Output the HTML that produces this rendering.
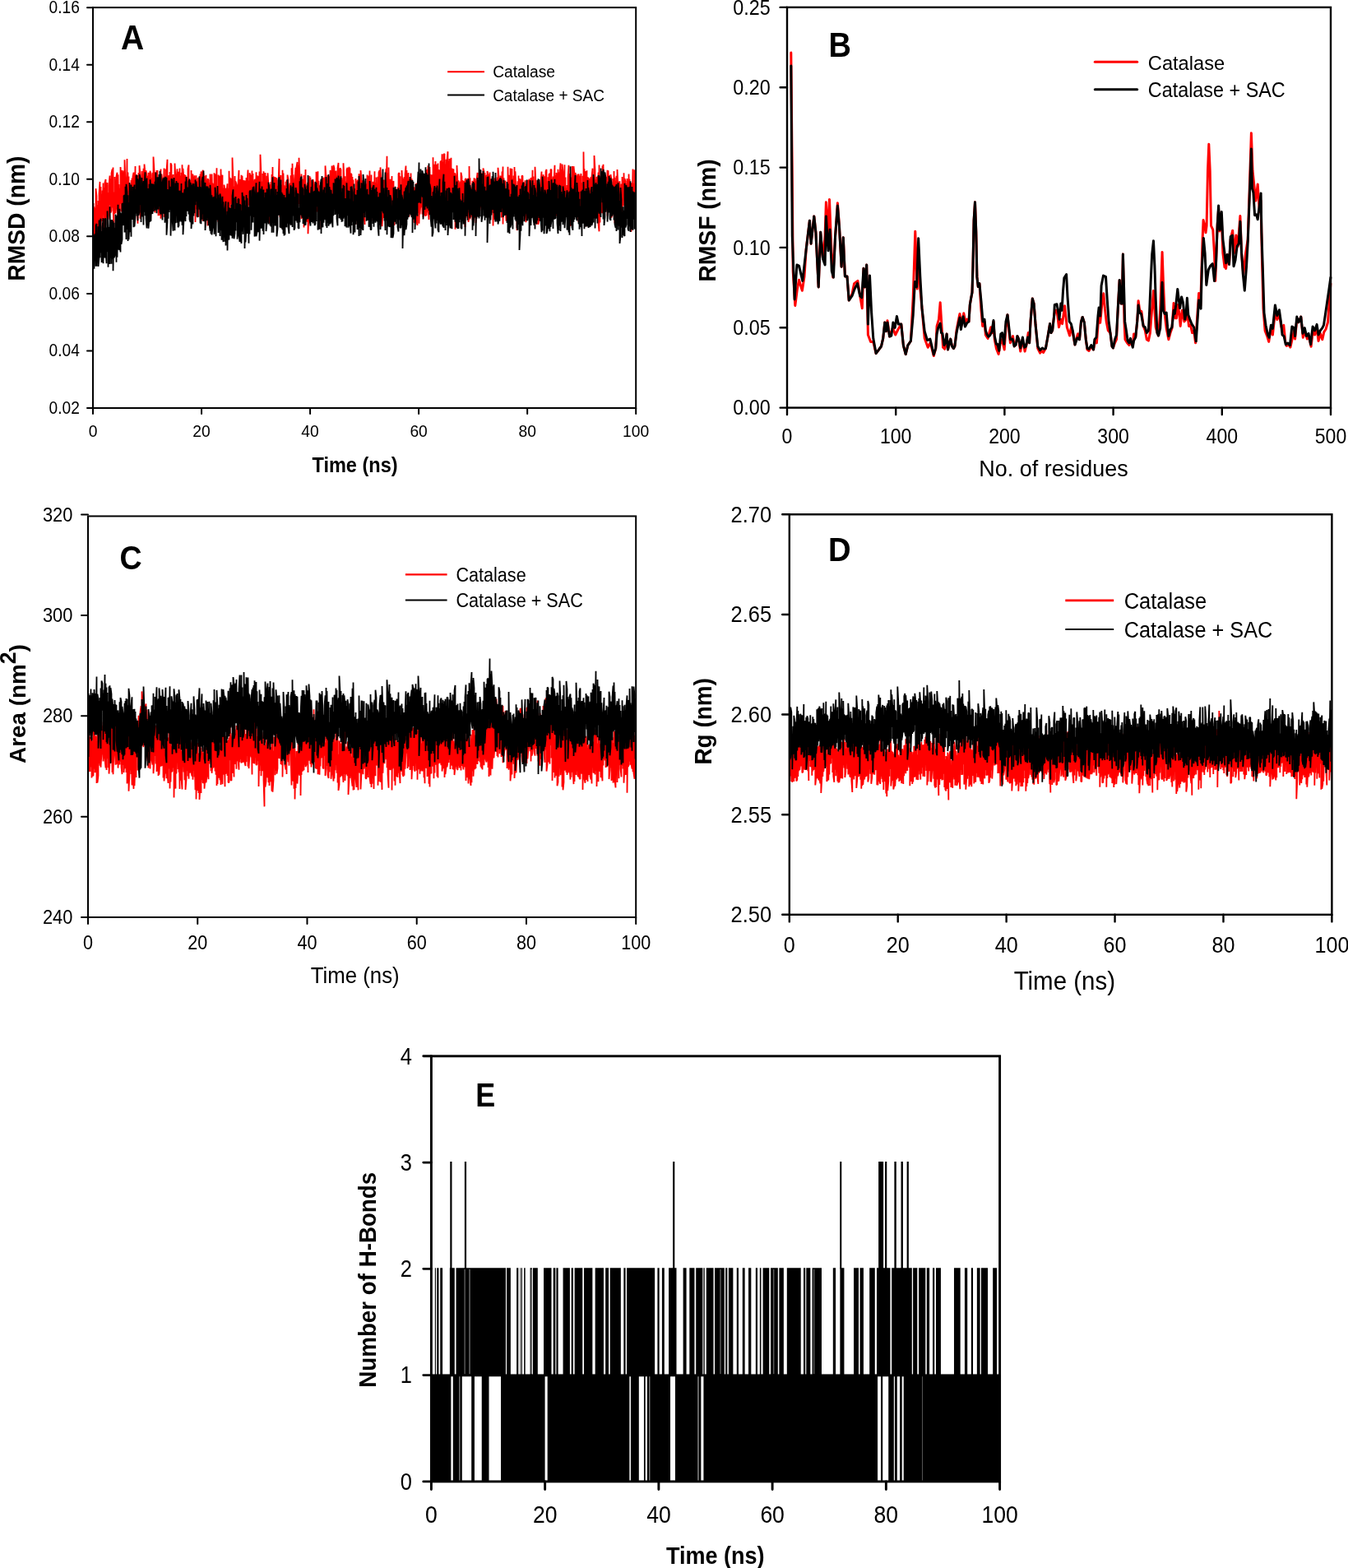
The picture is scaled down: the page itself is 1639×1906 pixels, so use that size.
<!DOCTYPE html>
<html lang="en">
<head>
<meta charset="utf-8">
<title>Catalase MD simulation: RMSD, RMSF, Area, Rg, H-Bonds</title>
<style>
html,body{margin:0;padding:0;background:#fff;}
body{width:1639px;height:1906px;overflow:hidden;font-family:"Liberation Sans",sans-serif;}
svg{display:block;}
</style>
</head>
<body>
<svg width="1639" height="1906" viewBox="0 0 1639 1906" role="img" aria-label="Molecular dynamics simulation plots" font-family="'Liberation Sans', sans-serif" fill="#000">
<rect width="1639" height="1906" fill="#fff"/>
<g id="panelA">
<path d="M113.6,246.9 113.6,301.1 114.5,251.2 114.5,275.4 115.5,252.9 115.5,287 116.5,277 116.5,229.2 117.5,238.6 117.5,276 118.5,304.2 118.5,249.1 119.5,285.7 119.5,244.1 120.5,267.4 120.5,235 121.5,220.9 121.5,278.3 122.5,227 122.5,283.4 123.5,236.3 123.5,264.3 124.5,231.5 124.5,269.1 125.5,222.6 125.5,255.6 126.5,228 126.5,280.9 127.5,267.5 127.5,222 128.5,218 128.5,265.8 129.5,254.1 129.5,225.6 130.5,222 130.5,273.5 131.5,234.1 131.5,266.6 132.5,256.8 132.5,225.2 133.5,213.6 133.5,249.3 134.5,217.2 134.5,258.6 135.5,256.1 135.5,210.4 136.5,205.8 136.5,252.4 137.5,203.6 137.5,251.1 138.5,279.5 138.5,233.6 139.5,259.9 139.5,215 140.5,240.7 140.5,259.1 141.5,249.8 141.5,214.3 142.5,209.7 142.5,245.3 143.5,268.8 143.5,212.3 144.5,270.8 144.5,224.1 145.5,263.3 145.5,229.1 146.5,247.8 146.5,203.1 147.5,215.6 147.5,256.4 148.5,256.8 148.5,206.9 149.5,257 149.5,209.2 150.5,239.6 150.5,207.6 151.5,246.6 151.5,194.2 152.5,219.3 152.5,263.9 153.5,217.1 153.5,263.2 154.5,193 154.5,263.1 155.5,209.6 155.5,244.8 156.5,214.4 156.5,250.9 157.5,229.3 157.5,257.5 158.5,223.8 158.5,258 159.5,252.4 159.5,219 160.5,258.8 160.5,216.5 161.5,259.9 161.5,214.4 162.5,209.6 162.5,245.8 163.5,220.4 163.5,249.7 164.5,202.1 164.5,241.2 165.5,212 165.5,239.8 166.5,212.9 166.5,252.4 167.5,271.8 167.5,232.3 168.5,210 168.5,254.1 169.5,250.5 169.5,201.2 170.5,212.4 170.5,265.7 171.5,246.9 171.5,216.4 172.5,241.7 172.5,207.9 173.5,241 173.5,211.3 174.5,248.8 174.5,204.8 175.5,255.3 175.5,199.5 176.5,210.8 176.5,245.7 177.5,254.2 177.5,207.2 178.5,214.2 178.5,256.7 179.5,257.4 179.5,213.9 180.5,255 180.5,209.8 181.5,244.4 181.5,209.8 182.5,242.5 182.5,207.7 183.5,212.4 183.5,246.8 184.5,247.3 184.5,216.2 185.5,252.2 185.5,209.8 186.5,251.8 186.5,190.6 187.5,207.3 187.5,251.4 188.5,258.4 188.5,209.4 189.5,223.4 189.5,250.3 190.5,207 190.5,242.6 191.5,207 191.5,253 192.5,215.7 192.5,262.3 193.5,215.7 193.5,256.3 194.5,227.1 194.5,261.9 195.5,205.4 195.5,265.7 196.5,257.2 196.5,211.7 197.5,220.1 197.5,249.4 198.5,222.1 198.5,248.5 199.5,204.6 199.5,263.9 200.5,214.3 200.5,256 201.5,243.6 201.5,205.5 202.5,239.2 202.5,207.8 203.5,193.8 203.5,239.5 204.5,242.7 204.5,217.6 205.5,213.2 205.5,244.7 206.5,251.3 206.5,209 207.5,248.8 207.5,198.3 208.5,200.6 208.5,242.6 209.5,213.7 209.5,254.7 210.5,212 210.5,246.4 211.5,240.5 211.5,220.4 212.5,246.1 212.5,198.6 213.5,217.2 213.5,257.8 214.5,263 214.5,218.4 215.5,205.3 215.5,247.2 216.5,250.8 216.5,210.4 217.5,209.1 217.5,242.6 218.5,204.4 218.5,249.5 219.5,213.5 219.5,246.5 220.5,265.1 220.5,209.7 221.5,257.7 221.5,200.2 222.5,255.5 222.5,204.7 223.5,218.3 223.5,248.5 224.5,211.9 224.5,250.8 225.5,248.4 225.5,213 226.5,254 226.5,214.7 227.5,250.5 227.5,218.1 228.5,254.1 228.5,205.1 229.5,200.5 229.5,252.9 230.5,254.2 230.5,219.4 231.5,222.3 231.5,262.1 232.5,261.8 232.5,206.9 233.5,245.8 233.5,213.5 234.5,211.7 234.5,260.4 235.5,214.7 235.5,246.3 236.5,213.3 236.5,245.8 237.5,225 237.5,270 238.5,213.3 238.5,248.9 239.5,254.4 239.5,219.9 240.5,257.3 240.5,217.2 241.5,216 241.5,263.8 242.5,215.6 242.5,251.3 243.5,211.5 243.5,249.4 244.5,252.7 244.5,208.5 245.5,211 245.5,256.3 246.5,268.6 246.5,206.7 247.5,212 247.5,266 248.5,213.8 248.5,264.4 249.5,217.9 249.5,269.8 250.5,212.7 250.5,261.9 251.5,257.4 251.5,219.1 252.5,274.4 252.5,217.1 253.5,218.9 253.5,263.5 254.5,269.7 254.5,222.1 255.5,262.8 255.5,211.4 256.5,258.6 256.5,218 257.5,257.6 257.5,211.5 258.5,245 258.5,222.6 259.5,267.9 259.5,223.4 260.5,261.6 260.5,210.3 261.5,216.5 261.5,273.9 262.5,211.6 262.5,263.1 263.5,204.2 263.5,252.4 264.5,228.2 264.5,262.1 265.5,270 265.5,212.4 266.5,252.9 266.5,216.4 267.5,213.9 267.5,252 268.5,250.1 268.5,205.5 269.5,246.3 269.5,214.7 270.5,212.8 270.5,251.5 271.5,228.5 271.5,266.4 272.5,273.5 272.5,224.6 273.5,231.2 273.5,260.7 274.5,228.7 274.5,266.4 275.5,264.8 275.5,232.7 276.5,223.3 276.5,257.9 277.5,228.8 277.5,257.6 278.5,245.5 278.5,207.7 279.5,266.1 279.5,215.7 280.5,248.2 280.5,217.3 281.5,218.1 281.5,252.3 282.5,252.4 282.5,191.6 283.5,220.2 283.5,249.9 284.5,263.2 284.5,226.5 285.5,266.1 285.5,214 286.5,247.5 286.5,220.4 287.5,224.3 287.5,262.7 288.5,250.6 288.5,224.6 289.5,251.2 289.5,222.8 290.5,206.9 290.5,245.3 291.5,261.1 291.5,218.6 292.5,219.2 292.5,261 293.5,212.8 293.5,256.1 294.5,256.5 294.5,213.7 295.5,246.7 295.5,220.3 296.5,219.6 296.5,266.6 297.5,267.6 297.5,219.3 298.5,225.5 298.5,263.7 299.5,261.1 299.5,216 300.5,257.9 300.5,222.2 301.5,206.5 301.5,254.8 302.5,219.4 302.5,249.4 303.5,247.1 303.5,210.3 304.5,214.3 304.5,247.8 305.5,212.4 305.5,255.3 306.5,207.6 306.5,241 307.5,211.1 307.5,257.5 308.5,263.4 308.5,219.5 309.5,238 309.5,217.9 310.5,220 310.5,257.8 311.5,209.3 311.5,247.1 312.5,255.8 312.5,213.2 313.5,226.6 313.5,256.3 314.5,213.8 314.5,269 315.5,208.5 315.5,252.7 316.5,252.8 316.5,187.7 317.5,211.7 317.5,252.6 318.5,220.6 318.5,248.3 319.5,256 319.5,210.9 320.5,254.2 320.5,208.2 321.5,223.1 321.5,259 322.5,260.8 322.5,209.9 323.5,262.1 323.5,223.6 324.5,260.1 324.5,213.8 325.5,260.7 325.5,210.2 326.5,225.9 326.5,263 327.5,271.6 327.5,224.3 328.5,258.4 328.5,231.7 329.5,221.2 329.5,267.5 330.5,212.1 330.5,254.8 331.5,203.1 331.5,263.3 332.5,247.5 332.5,214.4 333.5,222 333.5,244.5 334.5,249.4 334.5,214.9 335.5,255.8 335.5,217 336.5,216.6 336.5,253.6 337.5,225.8 337.5,252.4 338.5,252.2 338.5,224.2 339.5,192.9 339.5,238.7 340.5,264 340.5,216.6 341.5,213.1 341.5,257.9 342.5,272 342.5,224.4 343.5,278.1 343.5,206.7 344.5,263.5 344.5,210.6 345.5,255.3 345.5,225.4 346.5,235.6 346.5,262.9 347.5,252.8 347.5,220.8 348.5,264.3 348.5,219 349.5,252.6 349.5,212.6 350.5,218.3 350.5,258.1 351.5,224.6 351.5,251.7 352.5,222.6 352.5,270.6 353.5,250.6 353.5,213.3 354.5,257.2 354.5,204.3 355.5,252.9 355.5,198.8 356.5,256 356.5,212.2 357.5,260.1 357.5,223.3 358.5,251.8 358.5,217.9 359.5,203.7 359.5,238.3 360.5,241.9 360.5,203 361.5,196.9 361.5,241.7 362.5,251.2 362.5,200.7 363.5,248.1 363.5,191.7 364.5,216.9 364.5,243.8 365.5,215.9 365.5,249.9 366.5,266.1 366.5,211.4 367.5,254.6 367.5,217.5 368.5,229 368.5,265.6 369.5,212.9 369.5,276.4 370.5,218.7 370.5,251.2 371.5,205.9 371.5,267.3 372.5,226.7 372.5,267.2 373.5,269.6 373.5,224.7 374.5,221.7 374.5,284.2 375.5,260 375.5,221.1 376.5,214 376.5,265.4 377.5,215.8 377.5,259.7 378.5,228.4 378.5,265.8 379.5,219.2 379.5,251.7 380.5,255.6 380.5,218 381.5,223.5 381.5,258.3 382.5,255.7 382.5,223.9 383.5,250 383.5,221.6 384.5,256.8 384.5,208.7 385.5,225.2 385.5,257.5 386.5,208.2 386.5,257.3 387.5,219.7 387.5,266.8 388.5,225.7 388.5,278.3 389.5,225.1 389.5,263.6 390.5,253.1 390.5,221.1 391.5,232.8 391.5,258.4 392.5,268.3 392.5,216.3 393.5,216.9 393.5,259 394.5,250 394.5,215.4 395.5,247.5 395.5,201.4 396.5,216.4 396.5,260.9 397.5,217.2 397.5,256 398.5,212.8 398.5,267.1 399.5,262.5 399.5,217.3 400.5,214.4 400.5,248.6 401.5,245.8 401.5,207 402.5,210.5 402.5,267.5 403.5,237.9 403.5,201.6 404.5,217.5 404.5,252.8 405.5,241 405.5,200.8 406.5,204.6 406.5,247.4 407.5,241.7 407.5,208 408.5,244.5 408.5,207.5 409.5,250.3 409.5,213.8 410.5,247.7 410.5,204.2 411.5,198 411.5,247.9 412.5,235.3 412.5,205.1 413.5,252.6 413.5,204.2 414.5,206.4 414.5,242.1 415.5,216.2 415.5,257.4 416.5,250.3 416.5,218.3 417.5,257 417.5,198.2 418.5,221.1 418.5,261.3 419.5,214.2 419.5,262.9 420.5,220.4 420.5,264.2 421.5,255.5 421.5,206 422.5,203.8 422.5,245.6 423.5,255.4 423.5,212.9 424.5,202.8 424.5,250.4 425.5,204.3 425.5,251.9 426.5,264.3 426.5,210.8 427.5,212 427.5,269.7 428.5,214.9 428.5,256.1 429.5,260.5 429.5,218.4 430.5,254.9 430.5,229.2 431.5,232.1 431.5,259.9 432.5,272.8 432.5,217 433.5,258.1 433.5,226.4 434.5,253.3 434.5,219.8 435.5,219 435.5,262.3 436.5,256 436.5,211.2 437.5,223.2 437.5,272.5 438.5,256.5 438.5,207.1 439.5,218.2 439.5,241.7 440.5,266.7 440.5,219.3 441.5,228.6 441.5,268.5 442.5,226.9 442.5,261.4 443.5,272.9 443.5,229.1 444.5,223.3 444.5,254.5 445.5,223.3 445.5,253.1 446.5,212.4 446.5,263.2 447.5,261.8 447.5,221.9 448.5,213.6 448.5,262.5 449.5,207.4 449.5,251.1 450.5,220.4 450.5,267.3 451.5,212.6 451.5,269.1 452.5,225.2 452.5,256.4 453.5,220.7 453.5,263.9 454.5,221.1 454.5,259.7 455.5,208.3 455.5,248.1 456.5,250.4 456.5,221.7 457.5,260.6 457.5,215.4 458.5,260.8 458.5,226.9 459.5,245.6 459.5,214.8 460.5,258.5 460.5,209.5 461.5,207.1 461.5,263.7 462.5,258.4 462.5,203.4 463.5,222.4 463.5,249.4 464.5,230.9 464.5,275.3 465.5,258.7 465.5,219.5 466.5,265 466.5,218.6 467.5,263.5 467.5,218.4 468.5,255.6 468.5,214.3 469.5,205.1 469.5,235.7 470.5,189.7 470.5,241.6 471.5,248 471.5,210.3 472.5,248.5 472.5,203.4 473.5,249.5 473.5,222.5 474.5,250.5 474.5,217.8 475.5,230.1 475.5,260 476.5,213.9 476.5,278.7 477.5,262.6 477.5,223.2 478.5,219.9 478.5,253.1 479.5,273.9 479.5,237.7 480.5,229.2 480.5,267.6 481.5,259.3 481.5,233.4 482.5,233.5 482.5,256 483.5,227.5 483.5,253.8 484.5,257.1 484.5,211.2 485.5,210 485.5,244.8 486.5,214.3 486.5,256.8 487.5,256.9 487.5,227.4 488.5,263.9 488.5,207 489.5,224.3 489.5,256.3 490.5,255.5 490.5,216.8 491.5,254.3 491.5,215 492.5,258.5 492.5,211.8 493.5,201.6 493.5,258.1 494.5,207.1 494.5,252.1 495.5,252.2 495.5,211.5 496.5,255.9 496.5,210.1 497.5,263.5 497.5,217.6 498.5,222.3 498.5,254.8 499.5,247.9 499.5,210.4 500.5,253.9 500.5,217.4 501.5,225.4 501.5,264.4 502.5,264.1 502.5,229.6 503.5,227.5 503.5,270.6 504.5,269.9 504.5,229.4 505.5,257.1 505.5,223.6 506.5,225 506.5,270 507.5,273.9 507.5,222 508.5,222.8 508.5,258.9 509.5,218.5 509.5,271.7 510.5,215.8 510.5,260.5 511.5,246.8 511.5,220.6 512.5,252.2 512.5,224.6 513.5,260.4 513.5,224.7 514.5,227.4 514.5,264 515.5,215.6 515.5,259.5 516.5,261.8 516.5,225.4 517.5,223 517.5,263.1 518.5,206.1 518.5,261.8 519.5,252 519.5,221 520.5,201.2 520.5,252.9 521.5,267.1 521.5,211.3 522.5,253.5 522.5,203.1 523.5,251.7 523.5,212.2 524.5,220.5 524.5,249.6 525.5,212.2 525.5,259.3 526.5,240.7 526.5,191.3 527.5,257.6 527.5,199.8 528.5,254 528.5,218.8 529.5,196.1 529.5,254.2 530.5,199.8 530.5,242 531.5,200.4 531.5,248.5 532.5,198.4 532.5,236.7 533.5,246.9 533.5,206.1 534.5,230.6 534.5,206.9 535.5,244.6 535.5,196.7 536.5,195.6 536.5,245.5 537.5,187.3 537.5,237.9 538.5,196.4 538.5,229.6 539.5,233.4 539.5,187.6 540.5,187.1 540.5,258.1 541.5,199.6 541.5,239.5 542.5,193.8 542.5,237.1 543.5,229.4 543.5,195 544.5,184.2 544.5,248.4 545.5,230.2 545.5,195.6 546.5,236 546.5,192.9 547.5,202.2 547.5,246.5 548.5,191.8 548.5,261.2 549.5,235.2 549.5,204.5 550.5,242 550.5,207.3 551.5,205.5 551.5,248.4 552.5,265.5 552.5,211 553.5,211.2 553.5,278.7 554.5,213 554.5,250.5 555.5,248.1 555.5,201 556.5,221.4 556.5,266.3 557.5,219.3 557.5,258.8 558.5,222.5 558.5,257.2 559.5,220.6 559.5,253.1 560.5,250.5 560.5,209.6 561.5,214.6 561.5,257.5 562.5,260.2 562.5,219 563.5,264 563.5,221 564.5,221.1 564.5,265.4 565.5,276 565.5,218.2 566.5,216.9 566.5,264.9 567.5,225.5 567.5,257.4 568.5,244.4 568.5,217.1 569.5,218.3 569.5,269.9 570.5,263.7 570.5,202 571.5,266.5 571.5,216.3 572.5,264.1 572.5,234.1 573.5,227.9 573.5,252.5 574.5,219.7 574.5,267.6 575.5,224 575.5,263.1 576.5,216.2 576.5,258.1 577.5,217.1 577.5,265.1 578.5,219.6 578.5,271 579.5,250.6 579.5,219.5 580.5,209.9 580.5,260.9 581.5,235.4 581.5,257.2 582.5,250.6 582.5,209.8 583.5,250.6 583.5,205.8 584.5,252.5 584.5,213.9 585.5,255.6 585.5,210.4 586.5,214.3 586.5,239.4 587.5,234 587.5,204.4 588.5,208.5 588.5,248.3 589.5,210.1 589.5,257.1 590.5,253.2 590.5,224.5 591.5,212.5 591.5,251.6 592.5,256.1 592.5,208 593.5,212.5 593.5,259.4 594.5,212 594.5,261.8 595.5,253.8 595.5,209.6 596.5,257.1 596.5,235.9 597.5,247.6 597.5,217.6 598.5,229 598.5,258.8 599.5,224.7 599.5,274.4 600.5,232.2 600.5,265.4 601.5,266 601.5,216.6 602.5,218.4 602.5,257.6 603.5,223.5 603.5,265.9 604.5,265.6 604.5,215.4 605.5,249.5 605.5,203.8 606.5,215.3 606.5,251.2 607.5,218.6 607.5,252.8 608.5,256.2 608.5,213.6 609.5,223.6 609.5,264.5 610.5,208.6 610.5,251.8 611.5,202.6 611.5,272.5 612.5,216.3 612.5,246 613.5,224.7 613.5,261.9 614.5,219.4 614.5,252.9 615.5,268.8 615.5,235.8 616.5,261.2 616.5,229.6 617.5,255.3 617.5,202.7 618.5,256.3 618.5,232.9 619.5,270.1 619.5,212.8 620.5,252.5 620.5,204.5 621.5,252.5 621.5,205.8 622.5,205.6 622.5,250.3 623.5,247.2 623.5,217.2 624.5,244.4 624.5,213.4 625.5,247 625.5,203.1 626.5,246.7 626.5,208.2 627.5,228.3 627.5,261 628.5,231.7 628.5,280.1 629.5,255 629.5,220.3 630.5,265.1 630.5,213.5 631.5,266.2 631.5,217.1 632.5,256.2 632.5,217.7 633.5,225.8 633.5,254.8 634.5,263.6 634.5,213.8 635.5,213.7 635.5,263.3 636.5,221.8 636.5,257.3 637.5,222.3 637.5,267.9 638.5,219.3 638.5,256 639.5,229 639.5,270.3 640.5,223.4 640.5,259.6 641.5,248 641.5,219.3 642.5,219.6 642.5,261.2 643.5,257 643.5,217.6 644.5,226.3 644.5,256.6 645.5,246 645.5,216 646.5,221.9 646.5,262.2 647.5,206.7 647.5,254.1 648.5,214.5 648.5,257.4 649.5,222.6 649.5,258.3 650.5,269.6 650.5,202.7 651.5,224.6 651.5,258.7 652.5,229.2 652.5,273 653.5,219 653.5,259.9 654.5,229.8 654.5,272.8 655.5,268.3 655.5,235.2 656.5,224.9 656.5,263.3 657.5,249.1 657.5,220.7 658.5,208.6 658.5,254 659.5,244.1 659.5,216.8 660.5,256.3 660.5,212.2 661.5,219 661.5,257.8 662.5,214.3 662.5,251.8 663.5,258.7 663.5,208.8 664.5,205.9 664.5,244.5 665.5,220.2 665.5,259.6 666.5,258.3 666.5,215.3 667.5,268 667.5,211.9 668.5,211 668.5,251 669.5,265 669.5,205.9 670.5,206.3 670.5,265.3 671.5,259 671.5,216.8 672.5,252.9 672.5,214.6 673.5,262.1 673.5,219.5 674.5,200.7 674.5,248.1 675.5,212.8 675.5,255.3 676.5,262.4 676.5,209.9 677.5,218.2 677.5,252 678.5,251 678.5,205.7 679.5,248.7 679.5,209.6 680.5,260.5 680.5,212.5 681.5,198.4 681.5,241.3 682.5,247.7 682.5,205.8 683.5,243.8 683.5,199.6 684.5,208.7 684.5,248.6 685.5,226.4 685.5,258.9 686.5,200.3 686.5,247.3 687.5,215.5 687.5,251.7 688.5,228.4 688.5,262.2 689.5,225.1 689.5,253.3 690.5,249.8 690.5,216 691.5,200.8 691.5,251.5 692.5,211.1 692.5,257.9 693.5,218.5 693.5,275.1 694.5,215.5 694.5,253.1 695.5,243.3 695.5,202.2 696.5,203.8 696.5,249.8 697.5,247.4 697.5,202.2 698.5,212.1 698.5,258.3 699.5,261.7 699.5,210 700.5,215.1 700.5,250.5 701.5,256.7 701.5,218.1 702.5,211.7 702.5,252.5 703.5,269.9 703.5,211.5 704.5,216.7 704.5,271.8 705.5,271.1 705.5,217.4 706.5,210.9 706.5,244.6 707.5,222.2 707.5,268.7 708.5,254.5 708.5,213.8 709.5,264.5 709.5,184.5 710.5,256.1 710.5,205.3 711.5,252.6 711.5,212.4 712.5,208.3 712.5,275.3 713.5,207.3 713.5,261.1 714.5,215.1 714.5,259.8 715.5,255 715.5,215.7 716.5,273.1 716.5,217 717.5,252.6 717.5,220.9 718.5,215.2 718.5,252.3 719.5,249.4 719.5,214.6 720.5,204.7 720.5,242.1 721.5,216.2 721.5,239.6 722.5,243.2 722.5,189 723.5,206.6 723.5,255.8 724.5,218 724.5,258.3 725.5,256.6 725.5,215.6 726.5,215.3 726.5,253.2 727.5,209.6 727.5,271.6 728.5,281.3 728.5,200.5 729.5,270.4 729.5,217.6 730.5,233.3 730.5,257.3 731.5,220.7 731.5,257.7 732.5,259.1 732.5,201.6 733.5,258.3 733.5,199.8 734.5,255.5 734.5,215.8 735.5,216.4 735.5,253.6 736.5,253.2 736.5,216.3 737.5,215.3 737.5,255.6 738.5,206.7 738.5,262.4 739.5,255.3 739.5,207.2 740.5,242.4 740.5,216 741.5,255 741.5,213.1 742.5,250.9 742.5,212.1 743.5,218.3 743.5,264.7 744.5,223.5 744.5,240.8 745.5,250.9 745.5,217 746.5,263.2 746.5,208.1 747.5,271.2 747.5,215.8 748.5,249.1 748.5,220.3 749.5,251.6 749.5,213.8 750.5,257.9 750.5,206.1 751.5,227.4 751.5,261.3 752.5,274.9 752.5,223.8 753.5,220.3 753.5,271.3 754.5,228.3 754.5,260.7 755.5,223.6 755.5,260.8 756.5,250.7 756.5,215 757.5,250.4 757.5,219.7 758.5,243.1 758.5,210.2 759.5,250.2 759.5,217 760.5,220.3 760.5,265.6 761.5,258.4 761.5,223.1 762.5,259.7 762.5,217.1 763.5,229 763.5,258.8 764.5,262.3 764.5,211.5 765.5,259.1 765.5,217.7 766.5,261.9 766.5,224.4 767.5,222.4 767.5,281.7 768.5,228.4 768.5,253.3 769.5,205.5 769.5,246.3 770.5,222.7 770.5,264.2 771.5,241.1 771.5,206.4 772.5,216.6 772.5,252.7 772.6,243.5 772.6,227.6" stroke="#ff0000" stroke-width="1.8" fill="none" stroke-linejoin="bevel"/>
<path d="M113.6,317.6 113.6,285.4 114.5,326.7 114.5,285.5 115.5,315.7 115.5,284 116.5,323.8 116.5,274.2 117.5,271.9 117.5,323.6 118.5,295.7 118.5,317.7 119.5,275.2 119.5,324 120.5,313.1 120.5,267.4 121.5,313.3 121.5,271.5 122.5,265.7 122.5,307.5 123.5,280.9 123.5,319.1 124.5,309.3 124.5,276.4 125.5,265.2 125.5,320.2 126.5,276.8 126.5,305.7 127.5,313.4 127.5,266.1 128.5,265.8 128.5,305.7 129.5,320.3 129.5,276.4 130.5,306.3 130.5,256.4 131.5,278.6 131.5,324.8 132.5,276.1 132.5,307.7 133.5,320.9 133.5,251.2 134.5,313.6 134.5,272.6 135.5,320.7 135.5,267.6 136.5,268.1 136.5,315.2 137.5,268.8 137.5,329.3 138.5,270.7 138.5,313.3 139.5,311.1 139.5,276.7 140.5,310.2 140.5,260.4 141.5,318.7 141.5,276.3 142.5,261.7 142.5,312.8 143.5,248.7 143.5,300.8 144.5,303.5 144.5,257.5 145.5,304.3 145.5,253.8 146.5,306.4 146.5,258.7 147.5,264.8 147.5,296.9 148.5,291 148.5,247.4 149.5,247.8 149.5,273.4 150.5,272.9 150.5,238.1 151.5,237.3 151.5,282.5 152.5,267.3 152.5,226.7 153.5,291 153.5,223.8 154.5,233.5 154.5,279.1 155.5,237.2 155.5,293.1 156.5,246 156.5,291.3 157.5,271.3 157.5,222 158.5,282.3 158.5,233.9 159.5,287.8 159.5,224.4 160.5,266.9 160.5,239.6 161.5,264.8 161.5,226.9 162.5,276.3 162.5,232 163.5,224.5 163.5,275.3 164.5,264 164.5,229.9 165.5,259.6 165.5,213.4 166.5,213.3 166.5,262.5 167.5,217.3 167.5,268.3 168.5,219.1 168.5,261.7 169.5,257.8 169.5,212 170.5,215.6 170.5,249.3 171.5,229.6 171.5,269.9 172.5,216 172.5,256.2 173.5,263.3 173.5,221.7 174.5,273.6 174.5,219.9 175.5,257.7 175.5,228.3 176.5,209.2 176.5,262.3 177.5,218.1 177.5,265.5 178.5,277.5 178.5,216.6 179.5,274.6 179.5,230.8 180.5,229.5 180.5,277.8 181.5,264.7 181.5,223.7 182.5,269.7 182.5,218.2 183.5,228 183.5,268.8 184.5,223.2 184.5,257.6 185.5,259.8 185.5,224.7 186.5,223.9 186.5,257.3 187.5,226.4 187.5,250 188.5,220.9 188.5,256.2 189.5,209.5 189.5,254.4 190.5,223.7 190.5,259.2 191.5,215.2 191.5,242.5 192.5,254.6 192.5,232.1 193.5,212 193.5,251.3 194.5,207.8 194.5,258.1 195.5,260.5 195.5,211.3 196.5,250 196.5,221.9 197.5,267.6 197.5,222 198.5,216.7 198.5,256.6 199.5,259.8 199.5,215.5 200.5,228.5 200.5,270.7 201.5,214.8 201.5,268.6 202.5,216 202.5,285.8 203.5,269.8 203.5,230.1 204.5,265.8 204.5,230.5 205.5,257.9 205.5,219.4 206.5,255.1 206.5,230.1 207.5,227.1 207.5,286.6 208.5,253.7 208.5,217.3 209.5,218.8 209.5,264.8 210.5,280.8 210.5,221.1 211.5,258.9 211.5,216.1 212.5,280.2 212.5,227.9 213.5,271.3 213.5,222.4 214.5,252.8 214.5,220 215.5,270.8 215.5,224.1 216.5,222.4 216.5,276.3 217.5,274.1 217.5,234.9 218.5,231.8 218.5,269.4 219.5,233.9 219.5,267.9 220.5,222.9 220.5,269.6 221.5,234.1 221.5,273.8 222.5,234.8 222.5,285.2 223.5,266.9 223.5,237.3 224.5,229.9 224.5,259 225.5,269.1 225.5,220.5 226.5,263.1 226.5,215.1 227.5,256.7 227.5,228 228.5,256.6 228.5,227.4 229.5,260.5 229.5,220.7 230.5,217.4 230.5,266.7 231.5,269.9 231.5,221.8 232.5,227.1 232.5,278.1 233.5,266.9 233.5,224.8 234.5,272.5 234.5,223.1 235.5,262.4 235.5,223.2 236.5,259.2 236.5,226.4 237.5,249.2 237.5,218.4 238.5,244.9 238.5,220.6 239.5,232.2 239.5,262.7 240.5,263.9 240.5,227.1 241.5,251.4 241.5,228.2 242.5,254.7 242.5,214.2 243.5,271.5 243.5,227 244.5,272.3 244.5,228.3 245.5,266.7 245.5,220.5 246.5,214.8 246.5,260.6 247.5,207.6 247.5,269.1 248.5,263.7 248.5,225.6 249.5,222 249.5,279.9 250.5,261.7 250.5,232.3 251.5,226.5 251.5,268.2 252.5,252.6 252.5,226.7 253.5,233.8 253.5,273.9 254.5,228.7 254.5,272 255.5,280.6 255.5,224.7 256.5,239.6 256.5,284.2 257.5,237.2 257.5,285.5 258.5,277.4 258.5,239.5 259.5,277.4 259.5,246.1 260.5,238.9 260.5,284.8 261.5,262.5 261.5,227.7 262.5,236.1 262.5,287.2 263.5,241.2 263.5,267.4 264.5,261.6 264.5,225.9 265.5,282.9 265.5,236.8 266.5,276.1 266.5,240.6 267.5,287 267.5,235.5 268.5,241.4 268.5,280.3 269.5,251.2 269.5,291.8 270.5,238.8 270.5,281.2 271.5,294.1 271.5,245.2 272.5,288 272.5,262.6 273.5,293.7 273.5,253.8 274.5,244.8 274.5,298.4 275.5,261.6 275.5,290.8 276.5,256.7 276.5,304.5 277.5,245.4 277.5,287.2 278.5,291.6 278.5,253 279.5,253.5 279.5,285.9 280.5,283.7 280.5,252.7 281.5,286.8 281.5,248.7 282.5,289.8 282.5,238 283.5,230.3 283.5,287.8 284.5,240.5 284.5,290.3 285.5,283.7 285.5,254 286.5,280.5 286.5,239.1 287.5,270.1 287.5,249.3 288.5,247.2 288.5,290.7 289.5,282 289.5,242.1 290.5,241.9 290.5,284.3 291.5,293.8 291.5,248.4 292.5,249.3 292.5,287.1 293.5,295.8 293.5,255.8 294.5,281.4 294.5,233.9 295.5,245.7 295.5,284.7 296.5,238.4 296.5,275.9 297.5,243.6 297.5,302 298.5,249.6 298.5,294.4 299.5,277.1 299.5,236.9 300.5,284 300.5,240.7 301.5,277.3 301.5,252.2 302.5,295.8 302.5,251.5 303.5,284.6 303.5,233.1 304.5,231.6 304.5,262.5 305.5,243.4 305.5,279.8 306.5,230.4 306.5,261.6 307.5,270.4 307.5,227.4 308.5,263.8 308.5,226.7 309.5,238.5 309.5,287.5 310.5,281.6 310.5,247.7 311.5,222.3 311.5,287.3 312.5,282.3 312.5,247.3 313.5,233.6 313.5,279 314.5,282 314.5,253.4 315.5,220.8 315.5,292.6 316.5,258.7 316.5,229.3 317.5,239.8 317.5,277.4 318.5,275.4 318.5,226.6 319.5,280.7 319.5,240.4 320.5,230.5 320.5,284.9 321.5,239.9 321.5,268.8 322.5,271.2 322.5,234.2 323.5,236.7 323.5,281.1 324.5,270.7 324.5,229.6 325.5,270.5 325.5,230.8 326.5,272.5 326.5,221.5 327.5,231.8 327.5,263.5 328.5,240.5 328.5,274.2 329.5,229.4 329.5,275.5 330.5,233 330.5,282.7 331.5,215.3 331.5,270.5 332.5,236.8 332.5,282.7 333.5,222 333.5,264.3 334.5,240.2 334.5,274.5 335.5,229.8 335.5,274.4 336.5,237.1 336.5,287.5 337.5,277.9 337.5,233 338.5,261.6 338.5,219.2 339.5,215.3 339.5,261.8 340.5,237.9 340.5,276.4 341.5,218.6 341.5,277.3 342.5,233.7 342.5,274.2 343.5,279 343.5,235.4 344.5,284.1 344.5,239.8 345.5,286.5 345.5,237 346.5,285.6 346.5,241 347.5,240.4 347.5,272.5 348.5,276.2 348.5,228.9 349.5,271.8 349.5,218.1 350.5,239 350.5,276.9 351.5,284 351.5,235.7 352.5,272.2 352.5,238.5 353.5,225.2 353.5,273.8 354.5,260.7 354.5,228.7 355.5,276 355.5,226.8 356.5,262.4 356.5,222.3 357.5,234.6 357.5,279.7 358.5,277.3 358.5,239.2 359.5,268.4 359.5,228 360.5,234.3 360.5,262.2 361.5,270.6 361.5,235.4 362.5,236.1 362.5,276.9 363.5,278 363.5,252.4 364.5,270.3 364.5,220.2 365.5,261.5 365.5,217.1 366.5,214.5 366.5,257.7 367.5,264.7 367.5,227.8 368.5,230.5 368.5,272 369.5,237.3 369.5,261.7 370.5,274.3 370.5,223.7 371.5,231.8 371.5,273.8 372.5,259 372.5,230.1 373.5,266.4 373.5,225.5 374.5,266.2 374.5,213.1 375.5,263.7 375.5,234.7 376.5,235.9 376.5,267.7 377.5,274.5 377.5,243 378.5,227.1 378.5,269.9 379.5,264 379.5,218.2 380.5,271.5 380.5,232.7 381.5,269.4 381.5,235.1 382.5,232.1 382.5,274.1 383.5,272.1 383.5,220.7 384.5,268.9 384.5,222.1 385.5,251.2 385.5,228.5 386.5,234.1 386.5,279.6 387.5,269.9 387.5,232.5 388.5,278.8 388.5,233.7 389.5,268.5 389.5,226 390.5,217.5 390.5,284 391.5,214.1 391.5,272.6 392.5,276.2 392.5,251.4 393.5,230.6 393.5,270.8 394.5,227.5 394.5,257.8 395.5,267.1 395.5,234.4 396.5,274.7 396.5,215.1 397.5,277 397.5,231.3 398.5,223 398.5,271.3 399.5,211.9 399.5,274.7 400.5,266.3 400.5,227 401.5,236.5 401.5,272.2 402.5,268.8 402.5,230.7 403.5,245 403.5,265.5 404.5,276.3 404.5,235.5 405.5,262.3 405.5,222.2 406.5,253.4 406.5,222.9 407.5,261 407.5,217.6 408.5,222.7 408.5,259.7 409.5,215.7 409.5,265.8 410.5,274.3 410.5,217.6 411.5,260.2 411.5,213.6 412.5,227.1 412.5,265.2 413.5,261.7 413.5,220.1 414.5,214.3 414.5,267 415.5,233.6 415.5,269.7 416.5,228.7 416.5,269.3 417.5,224.8 417.5,265.8 418.5,226.1 418.5,264.2 419.5,240.9 419.5,275.1 420.5,273.3 420.5,241.3 421.5,276.6 421.5,222.3 422.5,262.2 422.5,236.2 423.5,231.4 423.5,276.7 424.5,232.1 424.5,275.3 425.5,241.5 425.5,269.7 426.5,283.6 426.5,226.7 427.5,274.1 427.5,226.4 428.5,234.2 428.5,269.8 429.5,244.6 429.5,285.2 430.5,273.8 430.5,223.5 431.5,282.5 431.5,238 432.5,236.7 432.5,272.8 433.5,237.2 433.5,268.5 434.5,230.9 434.5,279 435.5,267.7 435.5,220.5 436.5,286.9 436.5,213.9 437.5,232.9 437.5,276.9 438.5,229 438.5,285.9 439.5,267.1 439.5,222.3 440.5,231.1 440.5,277.4 441.5,279.8 441.5,211.9 442.5,220.8 442.5,258.9 443.5,224.9 443.5,264.3 444.5,217.1 444.5,256.8 445.5,231.4 445.5,268.7 446.5,257.4 446.5,229.7 447.5,268.1 447.5,236.4 448.5,240.3 448.5,275.7 449.5,272 449.5,220 450.5,234.8 450.5,279.2 451.5,279 451.5,230.9 452.5,264.8 452.5,227.9 453.5,272 453.5,227.3 454.5,225.2 454.5,275.8 455.5,229.8 455.5,268.4 456.5,236.5 456.5,270.7 457.5,227.8 457.5,268.3 458.5,233.1 458.5,269.5 459.5,239.6 459.5,275 460.5,286.7 460.5,239.2 461.5,273.7 461.5,234.5 462.5,237 462.5,279 463.5,266 463.5,215.6 464.5,225.7 464.5,256.5 465.5,205.6 465.5,256.5 466.5,259.3 466.5,228.6 467.5,268.4 467.5,244.7 468.5,279.9 468.5,209.6 469.5,236 469.5,268.2 470.5,228.1 470.5,285.3 471.5,238.9 471.5,273.3 472.5,274.9 472.5,231 473.5,245.3 473.5,275.9 474.5,273.8 474.5,237.1 475.5,241.7 475.5,288.9 476.5,249.8 476.5,289.3 477.5,243.5 477.5,289 478.5,283.9 478.5,227.8 479.5,269.7 479.5,237.5 480.5,269.8 480.5,226.8 481.5,241.6 481.5,272.4 482.5,230 482.5,266.4 483.5,240.7 483.5,276.2 484.5,281.6 484.5,228.6 485.5,267.6 485.5,231.8 486.5,231.6 486.5,277 487.5,276.4 487.5,224.3 488.5,273.9 488.5,237 489.5,243.2 489.5,302 490.5,255.1 490.5,278.8 491.5,232.4 491.5,286.3 492.5,271.6 492.5,235.3 493.5,227.8 493.5,279.1 494.5,272.7 494.5,225.6 495.5,266.7 495.5,227.2 496.5,219.8 496.5,264.2 497.5,258.9 497.5,234.4 498.5,260.1 498.5,215 499.5,261.8 499.5,218.7 500.5,226.6 500.5,263.9 501.5,218.9 501.5,283.1 502.5,220.8 502.5,265.9 503.5,265.4 503.5,232.3 504.5,232.1 504.5,279 505.5,258.1 505.5,224.1 506.5,225.1 506.5,254.7 507.5,262.7 507.5,229.1 508.5,208.7 508.5,246.8 509.5,197.5 509.5,245.8 510.5,244.9 510.5,210.5 511.5,247.3 511.5,205.5 512.5,238.1 512.5,211.7 513.5,239.8 513.5,207.3 514.5,212.7 514.5,266.5 515.5,240.5 515.5,210.7 516.5,224.3 516.5,255 517.5,203.3 517.5,251 518.5,243.9 518.5,210.1 519.5,253.4 519.5,212 520.5,249.8 520.5,213.2 521.5,256 521.5,198.5 522.5,261.2 522.5,223.7 523.5,229.3 523.5,262.9 524.5,275.8 524.5,238 525.5,254.2 525.5,287.6 526.5,282.8 526.5,233.3 527.5,266.3 527.5,232.9 528.5,226.1 528.5,266 529.5,277.4 529.5,235.1 530.5,271.4 530.5,227.7 531.5,268.1 531.5,225.5 532.5,238.5 532.5,279.3 533.5,282.2 533.5,243.8 534.5,217.5 534.5,270.6 535.5,238.2 535.5,272.4 536.5,271.6 536.5,234.2 537.5,235.8 537.5,269.3 538.5,275.3 538.5,221.8 539.5,211.7 539.5,277 540.5,220.8 540.5,270.3 541.5,241.3 541.5,280 542.5,231.6 542.5,266.2 543.5,229.1 543.5,273.9 544.5,244 544.5,285.9 545.5,267.7 545.5,228.5 546.5,229.4 546.5,269.3 547.5,277.5 547.5,234.6 548.5,235.1 548.5,267.7 549.5,278.2 549.5,236 550.5,258.1 550.5,228.2 551.5,231.3 551.5,267.1 552.5,257.2 552.5,213.8 553.5,269.8 553.5,225.2 554.5,236.2 554.5,276.7 555.5,220.6 555.5,272.3 556.5,278.1 556.5,229.1 557.5,278.1 557.5,231.4 558.5,270.2 558.5,228.2 559.5,267.1 559.5,242.4 560.5,251.5 560.5,276.7 561.5,278.3 561.5,243.8 562.5,268.8 562.5,235.1 563.5,272.5 563.5,250.6 564.5,245.9 564.5,271.7 565.5,221.8 565.5,286.7 566.5,222.3 566.5,262.6 567.5,259.7 567.5,218.5 568.5,267.8 568.5,221 569.5,255 569.5,217.2 570.5,224.9 570.5,256.9 571.5,265.3 571.5,225.1 572.5,234.1 572.5,260.2 573.5,230 573.5,261.8 574.5,222.8 574.5,279.7 575.5,220.9 575.5,274.4 576.5,261.8 576.5,222.5 577.5,263.7 577.5,231 578.5,236.1 578.5,287 579.5,233 579.5,265.7 580.5,216 580.5,261.4 581.5,263.2 581.5,218.8 582.5,265.4 582.5,192.6 583.5,263.3 583.5,209 584.5,206.5 584.5,251.2 585.5,211 585.5,269.8 586.5,262.8 586.5,223.6 587.5,254.8 587.5,207.8 588.5,262.4 588.5,228.9 589.5,226.8 589.5,267.8 590.5,231.6 590.5,264 591.5,233.7 591.5,264.8 592.5,215.2 592.5,294.9 593.5,260.5 593.5,214.4 594.5,264.5 594.5,228.8 595.5,272.1 595.5,225.7 596.5,224.8 596.5,267.5 597.5,217.3 597.5,261.4 598.5,214.3 598.5,254.6 599.5,253.7 599.5,208.8 600.5,231.8 600.5,259.2 601.5,220.4 601.5,263.9 602.5,269.5 602.5,210 603.5,267.4 603.5,220.3 604.5,269.4 604.5,219.9 605.5,230.4 605.5,272.5 606.5,267.1 606.5,218.6 607.5,268.8 607.5,218.6 608.5,216.2 608.5,255 609.5,257.7 609.5,217.6 610.5,228.1 610.5,253.5 611.5,222.9 611.5,263.9 612.5,261.7 612.5,218.7 613.5,229.6 613.5,260.9 614.5,261.2 614.5,230.6 615.5,229.8 615.5,261.5 616.5,221.1 616.5,271.1 617.5,223.3 617.5,282.8 618.5,269.8 618.5,230.6 619.5,284.1 619.5,239.9 620.5,240.2 620.5,276.4 621.5,273.1 621.5,235.7 622.5,267.3 622.5,218.5 623.5,278.4 623.5,234.6 624.5,263.6 624.5,223.5 625.5,254.8 625.5,224.4 626.5,267.2 626.5,226.8 627.5,229.9 627.5,269 628.5,224.9 628.5,276.5 629.5,279.6 629.5,241 630.5,239.2 630.5,273 631.5,237 631.5,303.9 632.5,284.4 632.5,229.4 633.5,280.7 633.5,236.1 634.5,272.1 634.5,225.6 635.5,274.3 635.5,224.1 636.5,221.5 636.5,262.7 637.5,231.9 637.5,269.3 638.5,260.4 638.5,226.9 639.5,227.4 639.5,259.7 640.5,218.5 640.5,267.8 641.5,267.4 641.5,233.6 642.5,236.1 642.5,265.7 643.5,242.1 643.5,287.1 644.5,264.6 644.5,219.2 645.5,229 645.5,274 646.5,231.9 646.5,265.2 647.5,219.2 647.5,264.4 648.5,237 648.5,266.2 649.5,273.8 649.5,224.9 650.5,278.5 650.5,228.3 651.5,235.2 651.5,263.1 652.5,272.2 652.5,239 653.5,268.3 653.5,218.7 654.5,263 654.5,217.2 655.5,265 655.5,218.1 656.5,231.4 656.5,268.7 657.5,232.4 657.5,265.7 658.5,282.2 658.5,227.3 659.5,280.5 659.5,214.6 660.5,232.2 660.5,264.7 661.5,233.7 661.5,284.2 662.5,268.6 662.5,230.7 663.5,235.5 663.5,274.5 664.5,236 664.5,284.1 665.5,280.4 665.5,231.1 666.5,231 666.5,271.2 667.5,278.5 667.5,220 668.5,238 668.5,281.3 669.5,231 669.5,276 670.5,268.1 670.5,218.2 671.5,266.8 671.5,236.7 672.5,278 672.5,222.4 673.5,223.8 673.5,266.8 674.5,217.7 674.5,265.9 675.5,265.1 675.5,223.3 676.5,260.2 676.5,227.5 677.5,224.8 677.5,271.5 678.5,283.9 678.5,241.2 679.5,279.9 679.5,227.9 680.5,224.9 680.5,274.5 681.5,225.7 681.5,281.1 682.5,232.9 682.5,269.2 683.5,267.8 683.5,235.6 684.5,273.3 684.5,226.4 685.5,236.2 685.5,270.7 686.5,231.9 686.5,277.3 687.5,263.8 687.5,240.1 688.5,264 688.5,241.5 689.5,231.3 689.5,279.6 690.5,273.9 690.5,233.4 691.5,282.6 691.5,240.7 692.5,285.7 692.5,232.6 693.5,266.9 693.5,202.3 694.5,274.3 694.5,228.1 695.5,244.8 695.5,276.2 696.5,279.7 696.5,229.4 697.5,269.7 697.5,229.7 698.5,266.9 698.5,231.3 699.5,212.8 699.5,264 700.5,233.6 700.5,263.6 701.5,268.3 701.5,222 702.5,237.3 702.5,263.9 703.5,233.3 703.5,272.4 704.5,241.8 704.5,278.8 705.5,250.6 705.5,272.5 706.5,276.1 706.5,232.4 707.5,287.1 707.5,234 708.5,230.8 708.5,271.4 709.5,269.3 709.5,221 710.5,278.2 710.5,233.6 711.5,232.5 711.5,275.8 712.5,228.9 712.5,274.6 713.5,231.9 713.5,275.4 714.5,271.2 714.5,219.1 715.5,276.9 715.5,228.1 716.5,237.8 716.5,276.2 717.5,235.2 717.5,276 718.5,267.1 718.5,231.9 719.5,227.1 719.5,274 720.5,269.8 720.5,233 721.5,270.4 721.5,212.1 722.5,230.7 722.5,265.5 723.5,223.8 723.5,277.4 724.5,222.1 724.5,265.4 725.5,263.6 725.5,224 726.5,271.5 726.5,223.7 727.5,257.6 727.5,213.4 728.5,214.1 728.5,259.8 729.5,215.8 729.5,256.6 730.5,263.9 730.5,204.5 731.5,237.7 731.5,211.4 732.5,246.2 732.5,208.1 733.5,266.6 733.5,205.8 734.5,211.4 734.5,274 735.5,263.8 735.5,209.5 736.5,216.4 736.5,257.7 737.5,229.9 737.5,251.1 738.5,223.2 738.5,269.6 739.5,252 739.5,220.7 740.5,258.6 740.5,214.1 741.5,235.9 741.5,265.8 742.5,267.9 742.5,216.5 743.5,222.2 743.5,263 744.5,261 744.5,224.8 745.5,260.5 745.5,226.2 746.5,241.4 746.5,267.5 747.5,227 747.5,272.5 748.5,276.7 748.5,225.8 749.5,281 749.5,223.9 750.5,273.9 750.5,238.3 751.5,279.5 751.5,222.2 752.5,236.9 752.5,274.3 753.5,244.1 753.5,295.9 754.5,287 754.5,228 755.5,242.5 755.5,276.6 756.5,261 756.5,289.1 757.5,251.3 757.5,281.6 758.5,255.7 758.5,285.5 759.5,287 759.5,222.8 760.5,237.6 760.5,276.4 761.5,272.8 761.5,224.9 762.5,266.1 762.5,227.4 763.5,231.3 763.5,278.4 764.5,280.7 764.5,227.6 765.5,228.6 765.5,275.6 766.5,220.3 766.5,282.1 767.5,240.2 767.5,279.1 768.5,226.9 768.5,271.2 769.5,279.8 769.5,232.6 770.5,266.6 770.5,235.1 771.5,233.8 771.5,278.6 772.5,270.6 772.5,234.2 772.6,257.8 772.6,264.2" stroke="#000" stroke-width="1.8" fill="none" stroke-linejoin="bevel"/>
<g stroke="#000" fill="none">
<rect x="113" y="9.15" width="660.2" height="486.85" stroke-width="2"/>
<path d="M106 496H113M106 426.45H113M106 356.9H113M106 287.35H113M106 217.8H113M106 148.25H113M106 78.7H113M106 9.15H113M113 496V503M245.04 496V503M377.08 496V503M509.12 496V503M641.16 496V503M773.2 496V503" stroke-width="2" stroke-linecap="round"/>
</g>
<g font-size="21.18" text-anchor="end">
<text transform="translate(96.76 503.01) scale(0.903 1)">0.02</text>
<text transform="translate(96.76 433.46) scale(0.903 1)">0.04</text>
<text transform="translate(96.76 363.91) scale(0.903 1)">0.06</text>
<text transform="translate(96.76 294.36) scale(0.903 1)">0.08</text>
<text transform="translate(96.76 224.81) scale(0.903 1)">0.10</text>
<text transform="translate(96.76 155.26) scale(0.903 1)">0.12</text>
<text transform="translate(96.76 85.71) scale(0.903 1)">0.14</text>
<text transform="translate(96.76 16.16) scale(0.903 1)">0.16</text>
</g>
<g font-size="20.69" text-anchor="middle">
<text transform="translate(113 531.2) scale(0.932 1)">0</text>
<text transform="translate(245.04 531.2) scale(0.932 1)">20</text>
<text transform="translate(377.08 531.2) scale(0.932 1)">40</text>
<text transform="translate(509.12 531.2) scale(0.932 1)">60</text>
<text transform="translate(641.16 531.2) scale(0.932 1)">80</text>
<text transform="translate(773.2 531.2) scale(0.932 1)">100</text>
</g>
<text transform="translate(147.03 60.4) scale(0.930 1)" font-size="41.88" font-weight="bold">A</text>
<text transform="translate(379.46 573.93) scale(0.911 1)" font-size="25.84" font-weight="bold">Time (ns)</text>
<text transform="translate(30 341.63) rotate(-90) scale(0.957 1)" font-size="29.49" font-weight="bold">RMSD (nm)</text>
<line x1="544.1" y1="87.3" x2="589" y2="87.3" stroke="#ff0000" stroke-width="2"/>
<line x1="544.1" y1="115.5" x2="589" y2="115.5" stroke="#000" stroke-width="2"/>
<text transform="translate(599.14 94.49) scale(0.935 1)" font-size="20.56">Catalase</text>
<text transform="translate(599.15 122.79) scale(0.912 1)" font-size="20.85">Catalase + SAC</text>
</g>
<g id="panelB">
<path d="M961.8,64 962.9,179 964.2,329.6 966.8,371.5 969.4,351.1 971.5,340.3 975.4,353.2 978,336 980.1,303.8 984.4,268.3 986.1,296.2 989.8,262.9 991.9,282.3 995.2,348.9 997.7,282.3 1000.5,314.5 1003.1,286.6 1004.4,245.7 1006.3,286.6 1008.5,242.5 1010.6,297.3 1012.8,337.1 1015.6,286.6 1018.4,246.8 1020.5,275.8 1023.1,324.2 1025.3,288.7 1027.4,336 1030,336 1032.2,365.1 1036,357.5 1038.6,344.6 1042.9,341.4 1045.7,359.7 1048.3,374.7 1050,326.3 1051.5,348.9 1053.7,322 1055.4,407 1058.6,415.6 1061.8,415.6 1065.1,429.6 1068.3,425.3 1071.5,421 1073.7,411.3 1075.8,391.9 1077.3,402.7 1079,389.8 1081.6,409.1 1085.5,398.4 1088.7,407 1091.9,400.5 1095.8,394.1 1098.4,419.9 1101.2,430.6 1103.8,419.9 1107.4,414.5 1110.2,361.8 1112.8,281.2 1115.2,351.1 1116.7,308.1 1118.8,351.1 1121,374.7 1124.2,411.3 1128.2,422.3 1130.9,416.8 1133,423.6 1135.3,432.5 1137.7,423.6 1139.1,396.4 1141.5,388.2 1143.2,367.7 1144.8,393.6 1146.6,422.3 1148.6,424.3 1150,418.2 1151.1,405.9 1152.5,425 1154.1,418.2 1155.7,412.1 1157.5,420.9 1159.5,423.6 1160.9,420.9 1163,401.8 1165,390.9 1167,381.4 1168.8,396.4 1171.8,380.7 1173.9,390.9 1175.9,388.2 1178,390.9 1179.3,370.5 1180.7,362.3 1182,355.5 1183,322.7 1184.1,268.2 1185.5,245.7 1186.8,281.8 1187.9,336.4 1189.3,348.6 1190.9,344.6 1193,377.3 1194.7,396.4 1197,390.9 1198.4,407.3 1201.1,411.4 1203.2,403.2 1204.8,397.7 1206.6,404.6 1208,390.9 1209.3,412.7 1211.4,423.6 1214.1,430.5 1216.1,418.2 1218.2,412.7 1221.2,425 1223,397.7 1225,382.7 1226.6,400.5 1228.4,416.8 1231.6,408.6 1233.2,420.9 1235.2,418.9 1237,408.6 1238.6,412.1 1240.7,427.1 1243.4,412.7 1246.1,427.1 1248.2,418.2 1250.2,404.6 1251.6,416.8 1253,390.9 1255.3,363 1257.1,369.1 1259.1,395 1261.8,423.6 1264.6,429.1 1266.6,426.4 1268.6,428.4 1271.4,423.6 1274.1,408.6 1276.6,393.6 1277.9,404.6 1279.6,401.8 1281.6,384.1 1283,377.3 1285,377.3 1287.5,397.7 1289.8,388.2 1291.6,393.6 1294.6,371.8 1297.3,397.7 1300.6,408 1302.5,397.7 1304.3,404.6 1307,418.9 1308.4,412.7 1310.5,405.9 1312.5,412.7 1314.5,390.9 1316.2,385.5 1318.4,392.3 1320.3,412.7 1322,425 1324.1,426.4 1326.8,420.9 1329.5,425 1331.6,414.1 1333.4,416.8 1336.1,381.4 1337.7,392.3 1339.8,370.5 1341.8,356.8 1343.5,375.9 1345.2,390.9 1347.3,401.8 1350,404.6 1352,420.9 1353.4,423 1355.5,416.8 1357.5,412.7 1359.5,370.5 1361.2,340.5 1363,369.1 1364.3,369.1 1365.4,309.1 1367,390.9 1368,412.7 1370.5,416.8 1372.9,419.6 1375.2,415.5 1377.3,420.9 1378.6,405.9 1380.7,410 1382.7,390.9 1384.1,365.7 1385.7,377.3 1387.9,378.6 1390.2,396.4 1392.3,401.8 1394.3,412.7 1396.4,414.1 1398.4,404.6 1400.5,377.3 1402.5,353.4 1403.9,377.3 1405.2,397.7 1407,404.6 1408.6,408 1410.7,377.3 1412.1,336.4 1413.1,306.4 1414.4,343.2 1416.1,381.4 1418.2,399.1 1420.9,412.7 1423,404.6 1425,399.1 1427.1,368.4 1429.1,386.8 1430.5,386.8 1432.1,370.5 1433.9,381.4 1435.2,396.4 1437.3,377.3 1440,390.9 1442.1,388.2 1443.4,377.3 1445.5,396.4 1447.5,395 1449.6,404.6 1451.6,401.8 1453.6,416.8 1457.6,356.6 1459.7,371.7 1461.1,324.7 1462.1,291.1 1463.1,267.6 1464.8,274.3 1466,282.7 1467.1,274.3 1468.5,207.2 1469.8,175.3 1471.2,207.2 1472.5,274.3 1474.8,279.4 1476.5,307.9 1477.7,341.5 1480.2,272.6 1481.6,254.2 1482.7,281 1485.3,267.6 1486.9,307.9 1489,324.7 1490.6,319.7 1490.6,326.4 1492.3,309.6 1494.5,321.3 1496.2,291.1 1498.7,280.2 1500.4,307.9 1502.9,286.1 1505.1,299.5 1507.9,262.6 1509.6,307.9 1511.8,333.1 1514.6,307.9 1517.2,291.1 1519.7,215.6 1521.4,161.8 1523,207.2 1524.7,223.9 1526.9,244.1 1529.2,223.9 1531.4,257.5 1533.1,244.1 1534.3,307.9 1536,375.1 1538.1,401.9 1540.7,408.6 1542.7,415.4 1545.4,398.6 1547.4,407 1549.4,388.5 1550.7,378.4 1552.8,388.5 1555.4,381.8 1557.5,395.2 1559.1,401.9 1560.8,395.2 1562.8,415.4 1564.2,420.4 1566.7,418.7 1568.9,422.1 1573.4,401.9 1574.6,412 1576.8,388.5 1578.9,391.8 1581.8,385.1 1584.3,410.3 1586.8,403.6 1589.4,412 1591.4,408.6 1594.1,421.2 1596.4,401.9 1598.6,407 1601.1,398.6 1603.1,414.5 1605.3,405.3 1607.8,412.8 1609.8,403.6 1612,400.2 1614.5,391.8 1616.2,366.7 1617.9,344.8" stroke="#ff0000" stroke-width="3" fill="none" stroke-linejoin="round" stroke-linecap="round"/>
<path d="M961.8,80.1 963.3,286.6 966.1,364 968.9,322 971.5,323.1 975.8,341.4 980.1,303.8 984.4,268.3 986.1,296.2 989.8,262.9 991.9,282.3 995.2,348.9 997.7,282.3 1000.5,314.5 1003.1,322 1004.4,262.9 1007,304.8 1009.1,279 1011.3,329.6 1013.4,337.1 1015.6,286.6 1018.4,250 1020.5,275.8 1023.1,324.2 1025.3,288.7 1027.4,336 1030,336 1032.2,365.1 1036,359.7 1039.2,351.1 1042.5,344.6 1045.7,359.7 1047.8,361.8 1050,326.3 1051.5,348.9 1053.7,322 1055.4,394.1 1057.5,334.9 1059.7,381.2 1061.8,411.3 1065.1,429.6 1068.3,425.3 1071.5,421 1073.7,411.3 1075.8,391.9 1077.3,402.7 1079,391.9 1081.6,409.1 1083.8,408.1 1085.9,391.9 1088.1,398.4 1090.4,384.4 1092.4,394.1 1095.8,394.1 1098.4,419.9 1101.2,430.6 1103.8,419.9 1107.4,414.5 1110.2,383.3 1112.4,342.5 1114.5,348.9 1116.7,289.8 1118.8,336 1121,374.7 1124.2,402.7 1127.4,413.4 1128.2,413.4 1130.9,412.1 1133,420.9 1135.3,431.1 1137.7,423.6 1139.1,405.9 1140.5,399.1 1143.2,393 1144.5,404.6 1145.9,405.2 1148,419.6 1149.3,416.8 1151.1,405.9 1152.5,425 1154.1,418.2 1155.7,412.1 1157.5,420.9 1159.5,423.6 1160.9,420.9 1163,404.6 1165,395 1167,386.1 1168.4,400.5 1171.1,384.8 1173.5,397.1 1175.9,392.3 1178,390.9 1179.3,370.5 1180.7,362.3 1182,355.5 1183,322.7 1184.1,268.2 1185.5,245.7 1186.8,281.8 1187.9,336.4 1189.3,348.6 1190.9,344.6 1193,366.4 1195,390.9 1197,388.2 1198.4,401.8 1199.8,405.9 1201.8,409.3 1203.9,407.3 1205.9,403.2 1208,389.6 1209.3,408.6 1211.4,418.2 1212.7,418.2 1214.8,426.4 1216.8,405.9 1218.5,404.6 1220.9,418.2 1223,390.9 1225,382.7 1226.6,396.4 1228.4,412.7 1231.1,412.1 1233.2,420.9 1235.2,418.9 1237,408.6 1238.6,412.1 1240.7,423 1243.4,410 1245.5,422.3 1247.5,420.9 1249.6,410 1251.6,416.8 1253,390.9 1255.3,363 1257.1,369.1 1259.1,395 1261.8,420.9 1264.6,425.7 1267.3,423 1269.3,424.3 1271.4,423.6 1274.1,408.6 1276.6,393.6 1277.9,404.6 1279.6,401.8 1281.6,384.1 1282.3,370.5 1285,369.8 1287.1,381.4 1288,388.2 1289.8,369.1 1291.1,377.3 1292.5,354.1 1293.9,337.7 1296.6,333.6 1298,360.9 1300.2,390.9 1302.3,393.6 1304.3,401.8 1307,418.9 1309.8,410.7 1312.5,412.7 1314.5,390.9 1316.2,385.5 1318.4,392.3 1320.3,412.7 1322,423.6 1324.1,424.3 1326.8,419.6 1329.5,425 1330.9,412.7 1333,410 1335,384.1 1336.1,373.9 1337.7,384.1 1339.1,347.3 1341.5,335 1344.5,336.4 1346.2,363.6 1348,389.6 1350,404.6 1352,420.9 1353.4,423 1355.5,412.7 1357.5,407.3 1359.5,370.5 1361.2,340.5 1363,369.1 1364.3,369.1 1365.4,309.1 1366.6,350 1367.7,390.9 1369.4,401.8 1371.1,414.1 1372.9,416.8 1374.5,411.4 1377.3,422.3 1378.6,414.1 1380.7,410 1382.7,390.9 1384.1,371.1 1385.5,380 1387.5,381.4 1390.2,396.4 1392.3,397.7 1394.3,404.6 1396.4,401.8 1397.7,377.3 1399.1,343.2 1400.7,309.1 1402.5,292.7 1403.9,322.7 1405.2,363.6 1407,404.6 1408.6,408 1410.7,399.1 1412.1,370.5 1413.1,343.2 1414.4,377.3 1416.1,381.4 1418.2,380 1419.6,397.7 1420.9,408.6 1423,400.5 1425,397.7 1427.1,377.3 1428.4,381.4 1429.8,370.5 1431.8,351.4 1433.2,363.6 1434.6,374.6 1436.6,360.9 1438.4,367.7 1440.7,388.2 1442.1,381.4 1443.4,362.3 1444.8,382.7 1446.8,388.2 1448.9,393.6 1451.6,397.7 1454.3,414.8 1457.6,365 1460.1,375.1 1461.4,324.7 1463.4,289.4 1465.1,307.9 1466.8,346.5 1469.3,328 1471.8,323 1474.3,320.5 1476.5,341.5 1478.5,321.3 1480.2,274.3 1481.6,250 1483.2,279.4 1485.3,257.5 1486.9,291.1 1489,307.9 1490.6,319.7 1492.3,309.6 1494.5,321.3 1496.2,287.8 1498.4,286.1 1500,323.8 1502,316.3 1504.1,299.5 1506.2,296.1 1507.9,269.3 1509.6,307.9 1511.3,333.1 1513.3,353.2 1515.5,324.7 1517.2,294.5 1519.2,240.7 1521.4,181.1 1522.5,229 1523.9,234 1525.6,261.7 1527.6,260.9 1529.2,266.8 1531.4,249.1 1533.1,234.9 1533.9,282.7 1535.3,324.7 1537,380.1 1539,395.2 1541.5,407 1543.2,410.3 1545.4,395.2 1547.4,399.4 1549.1,383.5 1550.4,370.9 1552.8,383.5 1555.4,376.7 1557.5,391.8 1559.1,407 1561.1,408.6 1563.3,418.7 1565.8,417 1568.4,419.6 1570.9,396.9 1573.4,398.6 1574.6,408.6 1576.8,385.1 1578.9,391.8 1581.8,385.1 1584,405.3 1586.3,398.6 1588.5,408.6 1591,405.3 1593.6,418.7 1596.1,396.9 1598.6,401.9 1601.1,394.4 1603.1,407 1605.3,401.9 1607.8,398.6 1609.5,395.2 1611.5,381.8 1613.7,366.7 1615.9,351.6 1617.9,337.3" stroke="#000" stroke-width="3" fill="none" stroke-linejoin="round" stroke-linecap="round"/>
<g stroke="#000" fill="none">
<rect x="957" y="8.9" width="661" height="486.7" stroke-width="2.4"/>
<path d="M948.6 495.6H957M948.6 398.26H957M948.6 300.92H957M948.6 203.58H957M948.6 106.24H957M948.6 8.9H957M957 495.6V504M1089.2 495.6V504M1221.4 495.6V504M1353.6 495.6V504M1485.8 495.6V504M1618 495.6V504" stroke-width="2.4" stroke-linecap="round"/>
</g>
<g font-size="25.07" text-anchor="end">
<text transform="translate(936.63 504.25) scale(0.930 1)">0.00</text>
<text transform="translate(936.63 406.91) scale(0.930 1)">0.05</text>
<text transform="translate(936.63 309.57) scale(0.930 1)">0.10</text>
<text transform="translate(936.63 212.23) scale(0.930 1)">0.15</text>
<text transform="translate(936.63 114.89) scale(0.930 1)">0.20</text>
<text transform="translate(936.63 17.55) scale(0.930 1)">0.25</text>
</g>
<g font-size="24.93" text-anchor="middle">
<text transform="translate(957 538.55) scale(0.926 1)">0</text>
<text transform="translate(1089.2 538.55) scale(0.926 1)">100</text>
<text transform="translate(1221.4 538.55) scale(0.926 1)">200</text>
<text transform="translate(1353.6 538.55) scale(0.926 1)">300</text>
<text transform="translate(1485.8 538.55) scale(0.926 1)">400</text>
<text transform="translate(1618 538.55) scale(0.926 1)">500</text>
</g>
<text transform="translate(1007.43 69.3) scale(0.908 1)" font-size="41.88" font-weight="bold">B</text>
<text transform="translate(1190.34 579.1) scale(0.954 1)" font-size="28.26">No. of residues</text>
<text transform="translate(870.3 342.74) rotate(-90) scale(0.960 1)" font-size="29.49" font-weight="bold">RMSF (nm)</text>
<line x1="1331.3" y1="75.3" x2="1382.7" y2="75.3" stroke="#ff0000" stroke-width="3" stroke-linecap="round"/>
<line x1="1331.3" y1="108.8" x2="1382.7" y2="108.8" stroke="#000" stroke-width="3" stroke-linecap="round"/>
<text transform="translate(1395.82 84.56) scale(0.971 1)" font-size="24.37">Catalase</text>
<text transform="translate(1395.83 118.05) scale(0.927 1)" font-size="25.21">Catalase + SAC</text>
</g>
<g id="panelC">
<path d="M107.6,887.7 107.6,936.8 108.5,937.5 108.5,890.5 109.5,938 109.5,896 110.5,932.5 110.5,898.3 111.5,896.6 111.5,945.6 112.5,901 112.5,943.3 113.5,942.4 113.5,888.4 114.5,934.7 114.5,883.6 115.5,899.8 115.5,939.2 116.5,894.4 116.5,938.5 117.5,903.5 117.5,951.9 118.5,889.3 118.5,951.5 119.5,942.6 119.5,897.5 120.5,899.8 120.5,928.1 121.5,892.7 121.5,930.8 122.5,883.3 122.5,932.8 123.5,915.4 123.5,881.8 124.5,916.9 124.5,886.5 125.5,925.6 125.5,877.6 126.5,879.8 126.5,922.1 127.5,887.7 127.5,922.4 128.5,933.5 128.5,877.6 129.5,935.9 129.5,873.4 130.5,882.7 130.5,922.1 131.5,887.5 131.5,933.2 132.5,890.3 132.5,940.6 133.5,926.4 133.5,871.5 134.5,869.7 134.5,917.4 135.5,926.6 135.5,876.9 136.5,938.9 136.5,877.4 137.5,869 137.5,941.3 138.5,911.1 138.5,875.6 139.5,884.7 139.5,902.2 140.5,929.8 140.5,883.4 141.5,880.4 141.5,929.2 142.5,923.2 142.5,865.8 143.5,880 143.5,933.6 144.5,914.2 144.5,874.8 145.5,929.5 145.5,883.3 146.5,903.4 146.5,925.6 147.5,898.2 147.5,932.3 148.5,941.1 148.5,881.5 149.5,930 149.5,889.1 150.5,877.8 150.5,939.1 151.5,925.6 151.5,886.9 152.5,875.9 152.5,934.2 153.5,880 153.5,939 154.5,882.3 154.5,952.5 155.5,944.1 155.5,895.9 156.5,886.7 156.5,961.8 157.5,940.3 157.5,894.5 158.5,936.5 158.5,891.5 159.5,941 159.5,896.5 160.5,954.4 160.5,901.8 161.5,899.9 161.5,940.7 162.5,958.9 162.5,897.9 163.5,901.4 163.5,955.2 164.5,928.1 164.5,893.9 165.5,945 165.5,877.1 166.5,886.6 166.5,918.4 167.5,878.4 167.5,936.4 168.5,869.8 168.5,926.6 169.5,908.2 169.5,872.6 170.5,906.3 170.5,866.3 171.5,858 171.5,902.5 172.5,902.9 172.5,840.4 173.5,852.2 173.5,899.1 174.5,908.1 174.5,855.2 175.5,862.5 175.5,900.4 176.5,905 176.5,859.4 177.5,855.6 177.5,925.1 178.5,905.4 178.5,862.7 179.5,889.3 179.5,912.3 180.5,933.5 180.5,884.8 181.5,916.7 181.5,888.1 182.5,894.5 182.5,934.5 183.5,896.7 183.5,923 184.5,884.7 184.5,923.7 185.5,929.5 185.5,895.4 186.5,875.4 186.5,940.3 187.5,924.7 187.5,882.8 188.5,892.1 188.5,919.1 189.5,881.7 189.5,928.5 190.5,888.7 190.5,938 191.5,925.1 191.5,894.8 192.5,879.9 192.5,943.1 193.5,891 193.5,941.6 194.5,920.1 194.5,888 195.5,931.8 195.5,897.1 196.5,903.6 196.5,931 197.5,926.8 197.5,889.7 198.5,885.9 198.5,945.6 199.5,882.1 199.5,949.4 200.5,939 200.5,897.2 201.5,900 201.5,940.6 202.5,901.9 202.5,946.3 203.5,899.2 203.5,939.6 204.5,952 204.5,896.5 205.5,934.6 205.5,886.7 206.5,891.7 206.5,958.6 207.5,893 207.5,950.4 208.5,907 208.5,937.9 209.5,937.4 209.5,889.2 210.5,933.4 210.5,876.3 211.5,896.8 211.5,969.4 212.5,897.1 212.5,946.7 213.5,958.6 213.5,906.4 214.5,940.4 214.5,895.8 215.5,924.1 215.5,890.3 216.5,935.1 216.5,903.4 217.5,938.8 217.5,894.4 218.5,959.1 218.5,893.4 219.5,892.9 219.5,948.8 220.5,912.9 220.5,946.5 221.5,959.4 221.5,899.4 222.5,928.7 222.5,901.4 223.5,938.5 223.5,901.1 224.5,948.2 224.5,895.9 225.5,911.8 225.5,960 226.5,947.6 226.5,894.1 227.5,937.2 227.5,914.4 228.5,900.8 228.5,943.5 229.5,892.9 229.5,946.8 230.5,900.8 230.5,939.4 231.5,936.3 231.5,900.1 232.5,906.2 232.5,938.9 233.5,943.6 233.5,905 234.5,947.7 234.5,873.5 235.5,936.8 235.5,883.9 236.5,944.4 236.5,910.8 237.5,960.3 237.5,899 238.5,913.9 238.5,971.4 239.5,906.5 239.5,957.4 240.5,903.1 240.5,961.2 241.5,915.6 241.5,963.9 242.5,924.3 242.5,971.9 243.5,954.4 243.5,899.9 244.5,963.9 244.5,909.2 245.5,948.3 245.5,913.3 246.5,916.6 246.5,951.2 247.5,951.6 247.5,923.1 248.5,908.4 248.5,958.8 249.5,945.7 249.5,918.2 250.5,907.1 250.5,951.4 251.5,943 251.5,897.1 252.5,900.9 252.5,934.8 253.5,947.2 253.5,910 254.5,928.6 254.5,895.9 255.5,925.7 255.5,897.4 256.5,876.5 256.5,937.3 257.5,893.7 257.5,939.8 258.5,930.5 258.5,887.6 259.5,870 259.5,933.3 260.5,925 260.5,884.7 261.5,898.2 261.5,937.4 262.5,897.2 262.5,941.8 263.5,908.4 263.5,955 264.5,899.4 264.5,953 265.5,896.7 265.5,940.2 266.5,945.6 266.5,906 267.5,948.3 267.5,909.7 268.5,954.1 268.5,902 269.5,950.5 269.5,892.1 270.5,913.5 270.5,953.3 271.5,881.6 271.5,939.5 272.5,941.4 272.5,908.1 273.5,956.2 273.5,902.2 274.5,941.1 274.5,894.8 275.5,939.7 275.5,908 276.5,900.3 276.5,943.1 277.5,899.2 277.5,951 278.5,951 278.5,896.7 279.5,924.2 279.5,877.8 280.5,906.8 280.5,948.4 281.5,948.7 281.5,900.1 282.5,891 282.5,937 283.5,939.6 283.5,889.9 284.5,944.4 284.5,890.5 285.5,929.1 285.5,886.5 286.5,924.1 286.5,891.9 287.5,934.8 287.5,882.1 288.5,925.2 288.5,883 289.5,880.6 289.5,923 290.5,935.8 290.5,897.3 291.5,926.5 291.5,879.2 292.5,897.5 292.5,922.9 293.5,886.5 293.5,927.4 294.5,925 294.5,886.4 295.5,870.9 295.5,926.5 296.5,922.8 296.5,860 297.5,889.6 297.5,927.1 298.5,931 298.5,892.6 299.5,893.8 299.5,926.3 300.5,870.1 300.5,918.9 301.5,897 301.5,931.8 302.5,879.3 302.5,934.1 303.5,918.7 303.5,881.9 304.5,872.6 304.5,911.2 305.5,920.5 305.5,881.7 306.5,941.4 306.5,884.3 307.5,882.1 307.5,920.8 308.5,927.8 308.5,867.8 309.5,891 309.5,928.5 310.5,873.2 310.5,921.2 311.5,883.4 311.5,930 312.5,929.1 312.5,895.1 313.5,925.3 313.5,886 314.5,908.4 314.5,955.9 315.5,903.2 315.5,937 316.5,885.8 316.5,930.5 317.5,900.4 317.5,943.2 318.5,901.8 318.5,934.1 319.5,936.9 319.5,905.2 320.5,889.8 320.5,948 321.5,980.4 321.5,907.6 322.5,905.8 322.5,956.6 323.5,949.6 323.5,906.5 324.5,898.8 324.5,942.6 325.5,945.3 325.5,894.4 326.5,951.2 326.5,909.2 327.5,898.2 327.5,955 328.5,910.9 328.5,950.2 329.5,934.1 329.5,908.1 330.5,961.7 330.5,901.6 331.5,878.3 331.5,962.8 332.5,948.2 332.5,912.5 333.5,931 333.5,895.8 334.5,942.3 334.5,896.6 335.5,936.7 335.5,900.7 336.5,892.2 336.5,940.7 337.5,933.8 337.5,892.9 338.5,921.8 338.5,875.7 339.5,879.6 339.5,922.1 340.5,915.9 340.5,867.9 341.5,929 341.5,895.8 342.5,879.9 342.5,929.8 343.5,890.8 343.5,944.4 344.5,878.6 344.5,920.5 345.5,920.3 345.5,883.8 346.5,892.3 346.5,930.1 347.5,935.6 347.5,884.3 348.5,941 348.5,890.3 349.5,923.4 349.5,890.8 350.5,926.2 350.5,877.6 351.5,930.7 351.5,885.4 352.5,914.1 352.5,884 353.5,886.3 353.5,916.6 354.5,954.4 354.5,891.1 355.5,891.8 355.5,944.2 356.5,949.7 356.5,893.1 357.5,958.8 357.5,907.8 358.5,911.1 358.5,971.5 359.5,921.8 359.5,957.9 360.5,913 360.5,946.8 361.5,913 361.5,952.6 362.5,936 362.5,890.4 363.5,884.6 363.5,939 364.5,942.8 364.5,889.7 365.5,894.1 365.5,966.9 366.5,891.6 366.5,942 367.5,902.3 367.5,937 368.5,936.6 368.5,884.1 369.5,936.2 369.5,886 370.5,890.4 370.5,929.8 371.5,883 371.5,932.1 372.5,929.1 372.5,880.5 373.5,930.3 373.5,886.5 374.5,939.1 374.5,892.1 375.5,924.8 375.5,881.1 376.5,924.8 376.5,885.7 377.5,928.8 377.5,888.3 378.5,932.4 378.5,890.6 379.5,915.3 379.5,879.7 380.5,888.9 380.5,929.6 381.5,923.4 381.5,862.2 382.5,926.4 382.5,885 383.5,877.5 383.5,933.5 384.5,933.3 384.5,883.4 385.5,935 385.5,886.5 386.5,875.9 386.5,941.2 387.5,933.1 387.5,887.6 388.5,893.8 388.5,941.8 389.5,893.7 389.5,931.6 390.5,890 390.5,921.5 391.5,880.7 391.5,921 392.5,876.4 392.5,932.9 393.5,934.5 393.5,888.9 394.5,880.6 394.5,918.8 395.5,902.4 395.5,943.1 396.5,934.4 396.5,890.9 397.5,886.9 397.5,931.1 398.5,884.7 398.5,941.9 399.5,946.1 399.5,893.1 400.5,938.6 400.5,889.6 401.5,883.1 401.5,917.9 402.5,894.5 402.5,946.8 403.5,937 403.5,881.7 404.5,915 404.5,935.7 405.5,949.6 405.5,880.3 406.5,906.7 406.5,946.5 407.5,902.4 407.5,936.2 408.5,889.4 408.5,929.8 409.5,881.1 409.5,939.7 410.5,889 410.5,951.4 411.5,916.8 411.5,961 412.5,953.8 412.5,900.5 413.5,905.9 413.5,944.7 414.5,903.7 414.5,943.5 415.5,941.3 415.5,879.3 416.5,892.2 416.5,937.1 417.5,951 417.5,883.9 418.5,941 418.5,881.4 419.5,898.9 419.5,948.9 420.5,909.7 420.5,941 421.5,938.9 421.5,907.6 422.5,943.3 422.5,902.8 423.5,901.6 423.5,965.9 424.5,947.8 424.5,912.5 425.5,946.1 425.5,907.7 426.5,910.6 426.5,944.1 427.5,919.4 427.5,946.7 428.5,955.7 428.5,903 429.5,890.3 429.5,960.5 430.5,892.7 430.5,960.1 431.5,912.8 431.5,942.6 432.5,910.4 432.5,945.8 433.5,957 433.5,895.5 434.5,891.4 434.5,929.6 435.5,960.4 435.5,905.4 436.5,895.9 436.5,932.8 437.5,939.6 437.5,905.2 438.5,879.6 438.5,959.5 439.5,938.6 439.5,897.1 440.5,888.9 440.5,929.7 441.5,941.2 441.5,901.4 442.5,934.8 442.5,888.3 443.5,933.2 443.5,901.1 444.5,900.4 444.5,945.9 445.5,946.8 445.5,898 446.5,904.6 446.5,942.4 447.5,906.5 447.5,945 448.5,893 448.5,934.6 449.5,908.1 449.5,944.8 450.5,952.8 450.5,897.8 451.5,906.9 451.5,957 452.5,905.7 452.5,952.7 453.5,898.6 453.5,946.2 454.5,902.3 454.5,959.1 455.5,888.7 455.5,926 456.5,943.3 456.5,890.8 457.5,875.4 457.5,930.2 458.5,928.9 458.5,898.8 459.5,908.7 459.5,954.7 460.5,877.3 460.5,949.9 461.5,904.3 461.5,939.9 462.5,896 462.5,950.8 463.5,906 463.5,932 464.5,959.9 464.5,894.9 465.5,893.7 465.5,939.8 466.5,900 466.5,924.3 467.5,894.3 467.5,928.3 468.5,883.8 468.5,920.5 469.5,877.2 469.5,923.3 470.5,896.4 470.5,933.2 471.5,901 471.5,940.7 472.5,957.8 472.5,898.2 473.5,896.6 473.5,935.5 474.5,889.1 474.5,936.1 475.5,926.5 475.5,897.6 476.5,898.3 476.5,960.4 477.5,877.1 477.5,934.5 478.5,924.9 478.5,893.9 479.5,889.2 479.5,949.6 480.5,902 480.5,954.8 481.5,898 481.5,939.5 482.5,943.8 482.5,901.4 483.5,945.1 483.5,907.2 484.5,900.1 484.5,939.8 485.5,903.3 485.5,938.2 486.5,952.1 486.5,883.6 487.5,937.9 487.5,885.7 488.5,937.2 488.5,902.2 489.5,904.7 489.5,941.3 490.5,944 490.5,901.9 491.5,942.8 491.5,896.2 492.5,888.2 492.5,934.7 493.5,916.2 493.5,885.4 494.5,915.7 494.5,881.3 495.5,897.1 495.5,934.1 496.5,881.7 496.5,931.9 497.5,867.9 497.5,922.1 498.5,892.1 498.5,935.9 499.5,926.1 499.5,879.4 500.5,890 500.5,947.2 501.5,927.2 501.5,887.6 502.5,884.2 502.5,930.9 503.5,887.7 503.5,935.4 504.5,937.7 504.5,891.3 505.5,922.9 505.5,889.8 506.5,936.8 506.5,888 507.5,889.3 507.5,947.7 508.5,876.1 508.5,925.5 509.5,935.1 509.5,894.3 510.5,940.8 510.5,891.6 511.5,896.1 511.5,937.5 512.5,903.4 512.5,920.3 513.5,937.5 513.5,894.9 514.5,926.3 514.5,888.1 515.5,945.3 515.5,909.6 516.5,952.2 516.5,876.9 517.5,892.9 517.5,929 518.5,933.7 518.5,889.5 519.5,897.4 519.5,944 520.5,892.5 520.5,943.5 521.5,908.7 521.5,952.8 522.5,916.5 522.5,956.5 523.5,881.4 523.5,938.6 524.5,940.2 524.5,902.4 525.5,931.6 525.5,885 526.5,931.1 526.5,883.7 527.5,946.3 527.5,899.8 528.5,939.6 528.5,895.8 529.5,893.8 529.5,929.5 530.5,922.6 530.5,897.1 531.5,944.1 531.5,879.4 532.5,945.4 532.5,875.6 533.5,884.2 533.5,928.2 534.5,869.3 534.5,927.4 535.5,885.7 535.5,923.7 536.5,930.1 536.5,886.1 537.5,888.3 537.5,937.6 538.5,930 538.5,868.2 539.5,934.2 539.5,891.9 540.5,890.3 540.5,945.1 541.5,881.9 541.5,941.2 542.5,932.3 542.5,890.2 543.5,882.7 543.5,932.3 544.5,926.2 544.5,877.2 545.5,926.9 545.5,890.6 546.5,923.4 546.5,875 547.5,882.7 547.5,934.9 548.5,875.5 548.5,930 549.5,899.4 549.5,930.7 550.5,884.9 550.5,935.1 551.5,900.7 551.5,935.7 552.5,903.4 552.5,942.1 553.5,931.8 553.5,874.2 554.5,883.7 554.5,931.9 555.5,898.2 555.5,934 556.5,936 556.5,884.1 557.5,931.1 557.5,883.5 558.5,879.8 558.5,933.4 559.5,926.7 559.5,886.3 560.5,936.6 560.5,883.3 561.5,930.9 561.5,894.2 562.5,895.5 562.5,928 563.5,935.5 563.5,873 564.5,932.4 564.5,888.5 565.5,927.7 565.5,887.6 566.5,949 566.5,898.4 567.5,901.8 567.5,945.2 568.5,931.1 568.5,892.4 569.5,952.4 569.5,884.7 570.5,901.4 570.5,947.2 571.5,905.5 571.5,946.8 572.5,954.9 572.5,892.8 573.5,951.2 573.5,897.7 574.5,937.6 574.5,887.2 575.5,891 575.5,943.7 576.5,924.5 576.5,881.5 577.5,935.3 577.5,896.2 578.5,934 578.5,894.6 579.5,889.9 579.5,924.3 580.5,928.9 580.5,891.6 581.5,925.1 581.5,879.3 582.5,887.9 582.5,920.4 583.5,893.1 583.5,926.6 584.5,885.6 584.5,932.3 585.5,889.7 585.5,933.9 586.5,884.9 586.5,935.6 587.5,890.4 587.5,925.3 588.5,889.3 588.5,930.2 589.5,881.6 589.5,917.9 590.5,886.2 590.5,922.8 591.5,926.5 591.5,881.1 592.5,878.3 592.5,925.2 593.5,887.2 593.5,933 594.5,876.1 594.5,944.1 595.5,871.5 595.5,924.5 596.5,878.1 596.5,942.5 597.5,878.8 597.5,922.2 598.5,879.3 598.5,934.7 599.5,902.4 599.5,864.7 600.5,866.6 600.5,921.4 601.5,907.4 601.5,858 602.5,910 602.5,856.9 603.5,913.9 603.5,849.5 604.5,919 604.5,881.2 605.5,920.5 605.5,878.1 606.5,902.2 606.5,862.6 607.5,916.2 607.5,873.7 608.5,913.7 608.5,858.5 609.5,874.6 609.5,920 610.5,912.8 610.5,858.7 611.5,858.3 611.5,927.3 612.5,883.4 612.5,919.1 613.5,911.3 613.5,868.5 614.5,906 614.5,864.1 615.5,869.1 615.5,911.8 616.5,890.7 616.5,934 617.5,922.6 617.5,875.3 618.5,935.8 618.5,880.8 619.5,871.5 619.5,933.6 620.5,901.7 620.5,949.3 621.5,937.8 621.5,900.5 622.5,941.6 622.5,890.6 623.5,925.2 623.5,896.9 624.5,880 624.5,928.7 625.5,903.4 625.5,945.9 626.5,928.4 626.5,886.9 627.5,891.1 627.5,939.5 628.5,918.6 628.5,890 629.5,876.9 629.5,923.6 630.5,917.5 630.5,874.5 631.5,915.9 631.5,866.3 632.5,909.6 632.5,861.6 633.5,861.5 633.5,908.6 634.5,872.7 634.5,918.7 635.5,926.8 635.5,886.5 636.5,889.6 636.5,918.9 637.5,911.4 637.5,868.2 638.5,900 638.5,927.6 639.5,914.1 639.5,889.4 640.5,928 640.5,860.4 641.5,860.3 641.5,922.4 642.5,908.7 642.5,879.8 643.5,868 643.5,904.4 644.5,871.4 644.5,913.2 645.5,865.9 645.5,925.5 646.5,866 646.5,918.6 647.5,915.7 647.5,869.6 648.5,911 648.5,879.1 649.5,873.7 649.5,912.4 650.5,918.7 650.5,881.2 651.5,909.9 651.5,865 652.5,869.9 652.5,902.7 653.5,918.7 653.5,851.5 654.5,884.6 654.5,925.4 655.5,894 655.5,927 656.5,930.8 656.5,866.8 657.5,874.7 657.5,922.6 658.5,908.6 658.5,880.2 659.5,907.6 659.5,873.3 660.5,912.1 660.5,858 661.5,879.5 661.5,914.9 662.5,926.8 662.5,873.7 663.5,911.4 663.5,848.4 664.5,883.8 664.5,937.6 665.5,929.4 665.5,874.3 666.5,926.5 666.5,867.3 667.5,877.5 667.5,916.1 668.5,928.6 668.5,864.4 669.5,905.9 669.5,876.1 670.5,879 670.5,921.5 671.5,870.3 671.5,949.1 672.5,879.3 672.5,925.1 673.5,887 673.5,939.1 674.5,903.8 674.5,945.4 675.5,888.5 675.5,943 676.5,939.8 676.5,868.4 677.5,884.1 677.5,955.3 678.5,950.9 678.5,880.7 679.5,878 679.5,944 680.5,883.3 680.5,933.5 681.5,891.2 681.5,942.3 682.5,920.1 682.5,885.1 683.5,895.2 683.5,956.4 684.5,898.8 684.5,960.3 685.5,950.8 685.5,876.7 686.5,898.2 686.5,936.4 687.5,934.7 687.5,897.6 688.5,939.1 688.5,884.6 689.5,908.8 689.5,942 690.5,887.2 690.5,939.6 691.5,936.3 691.5,890.4 692.5,895.5 692.5,933.3 693.5,947.6 693.5,892.5 694.5,944.7 694.5,894 695.5,938.8 695.5,883.7 696.5,894.8 696.5,935.2 697.5,953.1 697.5,899.3 698.5,898.4 698.5,950.1 699.5,887.6 699.5,940.9 700.5,886 700.5,942 701.5,896.8 701.5,937.4 702.5,895.6 702.5,943 703.5,944.2 703.5,895 704.5,888.9 704.5,946.3 705.5,947 705.5,895.2 706.5,940.6 706.5,892.5 707.5,940.7 707.5,894.1 708.5,892.1 708.5,960 709.5,898.7 709.5,942.5 710.5,892.4 710.5,946.9 711.5,951.7 711.5,896 712.5,947.9 712.5,894.7 713.5,907 713.5,948 714.5,909 714.5,949.9 715.5,905.3 715.5,940.3 716.5,941.6 716.5,912.8 717.5,904.2 717.5,943.5 718.5,947.6 718.5,909.5 719.5,952.6 719.5,903.6 720.5,932 720.5,901.5 721.5,939.6 721.5,901.6 722.5,940.1 722.5,900.2 723.5,886.6 723.5,941.4 724.5,892.4 724.5,936.7 725.5,877.9 725.5,956.1 726.5,903.4 726.5,937.3 727.5,950.2 727.5,894.8 728.5,897.4 728.5,937.5 729.5,935.9 729.5,904.3 730.5,945.3 730.5,898.7 731.5,900.9 731.5,937.9 732.5,949.3 732.5,887.6 733.5,930.6 733.5,895.3 734.5,922.8 734.5,884.9 735.5,924.5 735.5,889.3 736.5,873.4 736.5,933.1 737.5,892.3 737.5,932.2 738.5,927.8 738.5,882.6 739.5,930.2 739.5,892 740.5,893.6 740.5,947.1 741.5,935.6 741.5,900.9 742.5,894 742.5,933.5 743.5,893.6 743.5,949.1 744.5,896.3 744.5,947.7 745.5,902.9 745.5,951.4 746.5,948.4 746.5,888.8 747.5,890.7 747.5,948.3 748.5,957.4 748.5,892.6 749.5,938.9 749.5,903.9 750.5,950.9 750.5,902.7 751.5,932 751.5,895.3 752.5,946.3 752.5,895 753.5,930.3 753.5,882.3 754.5,887 754.5,934.2 755.5,944.4 755.5,893.7 756.5,930.8 756.5,898.1 757.5,889.7 757.5,934.6 758.5,893 758.5,951.7 759.5,931 759.5,898.8 760.5,890.3 760.5,942.1 761.5,891.5 761.5,941.8 762.5,896.4 762.5,963.7 763.5,891.2 763.5,931.9 764.5,930.4 764.5,902.6 765.5,925.6 765.5,897.5 766.5,897.3 766.5,929.8 767.5,895.9 767.5,928.9 768.5,934.5 768.5,900.3 769.5,894.5 769.5,938.2 770.5,901.2 770.5,939.8 771.5,946.8 771.5,893.8 772.5,932.1 772.5,883.1 772.6,916.9 772.6,938.7" stroke="#ff0000" stroke-width="1.8" fill="none" stroke-linejoin="bevel"/>
<path d="M107.6,843 107.6,919.9 108.5,845.1 108.5,893.9 109.5,848.7 109.5,891.6 110.5,837.6 110.5,898.3 111.5,845.2 111.5,900.5 112.5,882 112.5,842.3 113.5,851 113.5,888 114.5,889 114.5,838.1 115.5,856 115.5,893.6 116.5,843 116.5,892.4 117.5,822.6 117.5,893.5 118.5,883 118.5,843.7 119.5,849.9 119.5,909.7 120.5,888 120.5,851.9 121.5,884.3 121.5,848 122.5,909.9 122.5,836.6 123.5,888.2 123.5,827.5 124.5,830.7 124.5,863.6 125.5,842.6 125.5,899.2 126.5,838.4 126.5,880.1 127.5,820.1 127.5,889.3 128.5,830.7 128.5,892 129.5,835.6 129.5,902.2 130.5,842 130.5,904.2 131.5,892.4 131.5,852.4 132.5,896.7 132.5,834.6 133.5,905.6 133.5,833.2 134.5,928 134.5,836 135.5,843.7 135.5,874.8 136.5,885.6 136.5,849.6 137.5,862 137.5,911.5 138.5,908.7 138.5,855.9 139.5,913.5 139.5,851 140.5,882.9 140.5,858.1 141.5,856.9 141.5,900 142.5,913.7 142.5,866.6 143.5,863.5 143.5,913.4 144.5,924.3 144.5,866.2 145.5,914.9 145.5,853.3 146.5,911.6 146.5,848.1 147.5,853 147.5,908 148.5,917.1 148.5,858.9 149.5,867.2 149.5,923.3 150.5,867.5 150.5,918.9 151.5,854.7 151.5,917.4 152.5,851.9 152.5,904.6 153.5,849 153.5,909.5 154.5,849.7 154.5,903.4 155.5,908.1 155.5,857.2 156.5,895.2 156.5,836.8 157.5,845.8 157.5,910.8 158.5,891.7 158.5,857.4 159.5,917.9 159.5,856.5 160.5,847.3 160.5,917.1 161.5,916.8 161.5,864.3 162.5,862.5 162.5,913 163.5,912.4 163.5,861.7 164.5,914.3 164.5,865 165.5,916.1 165.5,873.4 166.5,920.6 166.5,881.4 167.5,875.9 167.5,915.1 168.5,884.3 168.5,932.2 169.5,945.6 169.5,885.2 170.5,867.4 170.5,935.4 171.5,866.6 171.5,933.7 172.5,850.1 172.5,906.5 173.5,903.1 173.5,853 174.5,902.8 174.5,834.5 175.5,863.2 175.5,906.3 176.5,865.6 176.5,933.8 177.5,918.6 177.5,858.4 178.5,915.5 178.5,874.1 179.5,930.8 179.5,876 180.5,913.7 180.5,862 181.5,871.7 181.5,927.5 182.5,869.9 182.5,905.1 183.5,865.5 183.5,904.8 184.5,914.1 184.5,857.4 185.5,861.1 185.5,909.1 186.5,842.8 186.5,914.5 187.5,862.6 187.5,894.3 188.5,882.8 188.5,847.1 189.5,879.5 189.5,859 190.5,835.3 190.5,897.3 191.5,850.7 191.5,899.5 192.5,849.3 192.5,891.8 193.5,890.6 193.5,836.4 194.5,849 194.5,899.5 195.5,899.3 195.5,845.8 196.5,863.6 196.5,910.5 197.5,896.2 197.5,838.1 198.5,854.4 198.5,903.7 199.5,909.8 199.5,846.9 200.5,898.5 200.5,857 201.5,835.7 201.5,918.1 202.5,927.3 202.5,858 203.5,900.7 203.5,864.1 204.5,890.6 204.5,847.9 205.5,849.9 205.5,891.6 206.5,834.2 206.5,903 207.5,903.2 207.5,862.3 208.5,904.3 208.5,846.3 209.5,854 209.5,916.8 210.5,852.4 210.5,904.7 211.5,910.7 211.5,837.3 212.5,847.6 212.5,911 213.5,853.7 213.5,909.7 214.5,915.3 214.5,844.5 215.5,903.9 215.5,843.1 216.5,898 216.5,857 217.5,909.9 217.5,838.3 218.5,849.4 218.5,904.7 219.5,849.9 219.5,888.6 220.5,864.3 220.5,911.4 221.5,852.9 221.5,902.6 222.5,924.8 222.5,854.6 223.5,861.4 223.5,911.7 224.5,927.2 224.5,858.6 225.5,902.4 225.5,861.6 226.5,910.3 226.5,862.1 227.5,890.5 227.5,863.6 228.5,925.1 228.5,852.1 229.5,864.1 229.5,921.3 230.5,874.7 230.5,916 231.5,921.4 231.5,869.9 232.5,854.7 232.5,899.6 233.5,862.3 233.5,911.1 234.5,867.7 234.5,917.1 235.5,929.4 235.5,846.4 236.5,862.6 236.5,906.7 237.5,868.6 237.5,925.6 238.5,869.6 238.5,916.1 239.5,903 239.5,850.4 240.5,895.1 240.5,849.7 241.5,907.8 241.5,856.2 242.5,836.4 242.5,925.9 243.5,916.8 243.5,860.3 244.5,907.6 244.5,860.1 245.5,843.4 245.5,899.2 246.5,913.8 246.5,859.4 247.5,905.9 247.5,855.1 248.5,870.6 248.5,922.2 249.5,928 249.5,863.4 250.5,908 250.5,851.6 251.5,911.7 251.5,865.6 252.5,853 252.5,916 253.5,861.4 253.5,925.1 254.5,852.8 254.5,922.6 255.5,912.9 255.5,866.4 256.5,933.3 256.5,854.8 257.5,866.1 257.5,899.9 258.5,902 258.5,868.4 259.5,898.9 259.5,851.3 260.5,903.6 260.5,838 261.5,912.6 261.5,866.4 262.5,853.4 262.5,912.8 263.5,910.6 263.5,838.9 264.5,859 264.5,921.1 265.5,861.1 265.5,918.5 266.5,910.2 266.5,856.8 267.5,902.8 267.5,847.3 268.5,867 268.5,910.9 269.5,912.3 269.5,837.5 270.5,848.8 270.5,894.2 271.5,895.6 271.5,838 272.5,847.4 272.5,893.6 273.5,919.7 273.5,845.8 274.5,889.8 274.5,847.8 275.5,857.4 275.5,902.9 276.5,851.4 276.5,898.4 277.5,839.8 277.5,895.5 278.5,854.5 278.5,895.1 279.5,836.4 279.5,891.8 280.5,829.2 280.5,884.3 281.5,872.5 281.5,837.8 282.5,832.5 282.5,908.3 283.5,893.2 283.5,823.1 284.5,831.9 284.5,898 285.5,892.8 285.5,837.3 286.5,830.6 286.5,879.2 287.5,826.1 287.5,878.7 288.5,840.9 288.5,887.2 289.5,841.2 289.5,879.9 290.5,908.2 290.5,837.8 291.5,820.6 291.5,880 292.5,837.9 292.5,896.1 293.5,820.5 293.5,887.2 294.5,835.5 294.5,900.2 295.5,846.6 295.5,896.7 296.5,890.8 296.5,817 297.5,886.3 297.5,831.7 298.5,833.8 298.5,886.7 299.5,885.6 299.5,823.3 300.5,833.9 300.5,898.2 301.5,877.2 301.5,823.5 302.5,888.3 302.5,842.7 303.5,895 303.5,844.2 304.5,897.9 304.5,852.4 305.5,895.1 305.5,849.9 306.5,838 306.5,891.4 307.5,835.8 307.5,884.8 308.5,900.4 308.5,833 309.5,878.5 309.5,827.3 310.5,848.9 310.5,909.5 311.5,829.1 311.5,885.7 312.5,840.2 312.5,882.9 313.5,853 313.5,910.4 314.5,915.9 314.5,857.8 315.5,900.7 315.5,838.5 316.5,870.1 316.5,899.6 317.5,843.8 317.5,893.3 318.5,903.9 318.5,852.1 319.5,887.5 319.5,853.8 320.5,854.4 320.5,898 321.5,847.3 321.5,905.8 322.5,898.7 322.5,828.6 323.5,847.3 323.5,898.9 324.5,893.9 324.5,839.9 325.5,830.6 325.5,910.1 326.5,899.3 326.5,861.5 327.5,835.1 327.5,892.1 328.5,911.2 328.5,827.9 329.5,904.2 329.5,850.5 330.5,846.7 330.5,887.1 331.5,904 331.5,836.6 332.5,892.7 332.5,829.5 333.5,860.1 333.5,893.8 334.5,854.3 334.5,907.5 335.5,889.4 335.5,838.2 336.5,850.8 336.5,892 337.5,845.5 337.5,896.8 338.5,852.4 338.5,898.5 339.5,845.3 339.5,898.2 340.5,903.7 340.5,854.8 341.5,871.2 341.5,906.3 342.5,870.7 342.5,925.3 343.5,872.9 343.5,923 344.5,915.6 344.5,841.1 345.5,859.6 345.5,924.7 346.5,867.1 346.5,929.5 347.5,912.5 347.5,858.5 348.5,900 348.5,844.2 349.5,917.8 349.5,852.3 350.5,841 350.5,889.6 351.5,916.5 351.5,857 352.5,873.7 352.5,912.4 353.5,904.1 353.5,847.2 354.5,841.1 354.5,900.5 355.5,902 355.5,826.2 356.5,910 356.5,856.3 357.5,893.3 357.5,839.3 358.5,909.4 358.5,843.9 359.5,853.4 359.5,895.2 360.5,846.1 360.5,895.4 361.5,903 361.5,846.7 362.5,904.7 362.5,871.7 363.5,866 363.5,915.4 364.5,910.8 364.5,867.3 365.5,907.7 365.5,868.4 366.5,845.8 366.5,912.7 367.5,893.7 367.5,839.1 368.5,901.8 368.5,843.5 369.5,839.3 369.5,901.4 370.5,899.5 370.5,844 371.5,858.7 371.5,889.7 372.5,904.5 372.5,833.2 373.5,850.8 373.5,901.2 374.5,902 374.5,839.2 375.5,896.2 375.5,831.6 376.5,846.4 376.5,910 377.5,850.3 377.5,896.3 378.5,905.4 378.5,851.2 379.5,881.9 379.5,927 380.5,927 380.5,871.7 381.5,939.5 381.5,868.1 382.5,914 382.5,882.8 383.5,875.3 383.5,897 384.5,851.5 384.5,901.2 385.5,851.6 385.5,918.5 386.5,864.5 386.5,921.6 387.5,906.3 387.5,853.7 388.5,905.5 388.5,842.5 389.5,867.5 389.5,900.9 390.5,909.2 390.5,843.9 391.5,907.6 391.5,840.1 392.5,869.5 392.5,902.8 393.5,868.8 393.5,907.5 394.5,897.7 394.5,857.9 395.5,845.4 395.5,886.7 396.5,895.7 396.5,835.9 397.5,898 397.5,839.9 398.5,899.8 398.5,865.2 399.5,853.1 399.5,927.5 400.5,877.8 400.5,915.6 401.5,931.8 401.5,860 402.5,924.2 402.5,856.8 403.5,866 403.5,912.8 404.5,847.4 404.5,901.8 405.5,865 405.5,898.6 406.5,895.3 406.5,844.7 407.5,850.7 407.5,891.9 408.5,836.4 408.5,890.5 409.5,838.8 409.5,899.9 410.5,893.6 410.5,850.2 411.5,895.2 411.5,848.3 412.5,884.8 412.5,821.5 413.5,840.9 413.5,897.2 414.5,839.9 414.5,902 415.5,853.9 415.5,900 416.5,845 416.5,913 417.5,908.3 417.5,843.1 418.5,912.7 418.5,845.3 419.5,857.3 419.5,889.6 420.5,851.8 420.5,904.3 421.5,890.5 421.5,857.9 422.5,896.6 422.5,850.2 423.5,856.7 423.5,910.2 424.5,862.4 424.5,913 425.5,854.7 425.5,904.2 426.5,847.1 426.5,916.1 427.5,849.6 427.5,907.8 428.5,836.7 428.5,909.5 429.5,898.3 429.5,829.6 430.5,920.9 430.5,871.5 431.5,874.8 431.5,927.5 432.5,865.9 432.5,931.1 433.5,873.9 433.5,922.3 434.5,878.8 434.5,914.1 435.5,873.6 435.5,921.4 436.5,898.2 436.5,845.6 437.5,907.9 437.5,863.9 438.5,873.5 438.5,910.9 439.5,851.6 439.5,935 440.5,851.8 440.5,921.4 441.5,879.3 441.5,928.4 442.5,852.2 442.5,911.7 443.5,872.4 443.5,927.2 444.5,874.7 444.5,918.5 445.5,854.8 445.5,932 446.5,875.8 446.5,927.9 447.5,924 447.5,856.3 448.5,863.1 448.5,913.4 449.5,909.4 449.5,862.5 450.5,898.4 450.5,844 451.5,908.3 451.5,873.5 452.5,853.5 452.5,924.2 453.5,909 453.5,865.8 454.5,903.8 454.5,857.7 455.5,850.7 455.5,901.3 456.5,897.5 456.5,838.7 457.5,848.2 457.5,907.1 458.5,902.7 458.5,862.5 459.5,865.3 459.5,911.8 460.5,866.2 460.5,933.4 461.5,897.9 461.5,856 462.5,845.1 462.5,905.5 463.5,902.1 463.5,844.6 464.5,915.1 464.5,834.1 465.5,864.3 465.5,902.5 466.5,927.1 466.5,853.6 467.5,904.4 467.5,860 468.5,857.4 468.5,889.3 469.5,907.9 469.5,872.5 470.5,901.6 470.5,826.3 471.5,846.9 471.5,886.3 472.5,905.5 472.5,853.3 473.5,832 473.5,894.1 474.5,900.4 474.5,843.2 475.5,889.5 475.5,848.1 476.5,908.2 476.5,847.7 477.5,894.6 477.5,863.6 478.5,851 478.5,897.9 479.5,907 479.5,865.3 480.5,892.1 480.5,851.9 481.5,854.6 481.5,899.8 482.5,849.5 482.5,884.9 483.5,856.1 483.5,902 484.5,841.6 484.5,896.3 485.5,858.9 485.5,931.8 486.5,857.5 486.5,914.2 487.5,880.4 487.5,936.6 488.5,855.4 488.5,926 489.5,914.7 489.5,860.9 490.5,909.8 490.5,876.7 491.5,866 491.5,903.9 492.5,898.8 492.5,868 493.5,840.3 493.5,894.8 494.5,856.7 494.5,907.3 495.5,910.8 495.5,844.4 496.5,842 496.5,909.5 497.5,853.6 497.5,890.7 498.5,846.6 498.5,879.8 499.5,896.7 499.5,847.1 500.5,838.6 500.5,888.3 501.5,879.3 501.5,832 502.5,836.7 502.5,883.2 503.5,836.6 503.5,897 504.5,851.2 504.5,890.1 505.5,831.3 505.5,892.6 506.5,891.4 506.5,838 507.5,841.2 507.5,884 508.5,886.7 508.5,821.6 509.5,842.8 509.5,918.9 510.5,893.7 510.5,850.5 511.5,835.9 511.5,894 512.5,895.7 512.5,853.3 513.5,847.1 513.5,896.3 514.5,900.9 514.5,857 515.5,898.8 515.5,872.4 516.5,896.4 516.5,842.2 517.5,913.1 517.5,841.8 518.5,906.5 518.5,855 519.5,901.1 519.5,865.3 520.5,868.5 520.5,912.8 521.5,871.5 521.5,924.3 522.5,851.8 522.5,931.9 523.5,866.7 523.5,906.9 524.5,864.3 524.5,916.2 525.5,863.6 525.5,906.5 526.5,912.9 526.5,859.8 527.5,916 527.5,869.7 528.5,844.2 528.5,926.4 529.5,864.6 529.5,900.7 530.5,899 530.5,859.8 531.5,867.8 531.5,906.1 532.5,845.2 532.5,922.9 533.5,854.8 533.5,906.3 534.5,902.1 534.5,861.1 535.5,899.9 535.5,851.2 536.5,848.5 536.5,904.4 537.5,854.5 537.5,897.9 538.5,902.3 538.5,850.7 539.5,900.2 539.5,855.6 540.5,896.9 540.5,852.2 541.5,907.5 541.5,849.7 542.5,901.3 542.5,858.5 543.5,898.5 543.5,847.4 544.5,848.2 544.5,908.3 545.5,861.3 545.5,910.5 546.5,850.3 546.5,917.7 547.5,902.3 547.5,842 548.5,859.2 548.5,898.4 549.5,900.1 549.5,851.4 550.5,890.5 550.5,844.3 551.5,898.3 551.5,857.3 552.5,892.1 552.5,839.5 553.5,832.9 553.5,910.5 554.5,897 554.5,861.1 555.5,857.3 555.5,902.8 556.5,916.4 556.5,855.4 557.5,908.3 557.5,864.7 558.5,908.9 558.5,863.2 559.5,911.8 559.5,854.8 560.5,900.7 560.5,862.8 561.5,865.3 561.5,911 562.5,874.9 562.5,928.6 563.5,858.6 563.5,917.8 564.5,898.4 564.5,853.1 565.5,916.1 565.5,847.3 566.5,832.4 566.5,891.8 567.5,867.3 567.5,901.1 568.5,896 568.5,844.1 569.5,886.5 569.5,840 570.5,908.1 570.5,830.2 571.5,894.5 571.5,838.3 572.5,877.7 572.5,831.8 573.5,817 573.5,878.9 574.5,885.7 574.5,826.8 575.5,883.1 575.5,824 576.5,836.4 576.5,887.8 577.5,844.9 577.5,886.9 578.5,842.1 578.5,907.5 579.5,870.2 579.5,903.1 580.5,853.4 580.5,921.7 581.5,865.4 581.5,912.4 582.5,852.9 582.5,907 583.5,885.5 583.5,847 584.5,855.6 584.5,906.4 585.5,885.3 585.5,870.1 586.5,862 586.5,912.4 587.5,851.8 587.5,917.4 588.5,895.6 588.5,828.8 589.5,862 589.5,903.6 590.5,884.4 590.5,835.7 591.5,886.6 591.5,831.3 592.5,884.5 592.5,825.7 593.5,824.6 593.5,885.2 594.5,824.4 594.5,865.4 595.5,800.5 595.5,885.2 596.5,876.5 596.5,819.3 597.5,878.7 597.5,815.5 598.5,835.4 598.5,884.4 599.5,834.3 599.5,876.7 600.5,885.6 600.5,832.3 601.5,878.3 601.5,850.5 602.5,913.5 602.5,847.1 603.5,854.8 603.5,901.9 604.5,908.4 604.5,856.1 605.5,858.7 605.5,890.1 606.5,890.5 606.5,835.3 607.5,840.7 607.5,910.8 608.5,847.9 608.5,899.7 609.5,896.3 609.5,865.8 610.5,856.8 610.5,917.1 611.5,918.2 611.5,870 612.5,926.4 612.5,865.6 613.5,908.5 613.5,868.8 614.5,906.7 614.5,869.4 615.5,863.7 615.5,910.6 616.5,863.4 616.5,906.7 617.5,875.3 617.5,915.8 618.5,926.2 618.5,841.1 619.5,904.1 619.5,870.1 620.5,917.9 620.5,865.9 621.5,880.4 621.5,926.4 622.5,883.1 622.5,924.1 623.5,868.9 623.5,920.7 624.5,867.5 624.5,920.2 625.5,874.2 625.5,919.3 626.5,871.6 626.5,937 627.5,914.8 627.5,856.3 628.5,921.2 628.5,860.1 629.5,905.9 629.5,871.5 630.5,914.9 630.5,863.5 631.5,867.4 631.5,918.2 632.5,939.2 632.5,868 633.5,867.5 633.5,915.7 634.5,907.1 634.5,850.4 635.5,882.3 635.5,929.1 636.5,872.8 636.5,911.3 637.5,938.4 637.5,873.4 638.5,849.9 638.5,909.2 639.5,873.2 639.5,931.5 640.5,909.9 640.5,864.7 641.5,902.5 641.5,849.9 642.5,851.6 642.5,908 643.5,855.1 643.5,890.7 644.5,908.1 644.5,835.9 645.5,904.4 645.5,848.4 646.5,842.4 646.5,911.2 647.5,842.5 647.5,905.4 648.5,903.9 648.5,862 649.5,904.2 649.5,848.3 650.5,897 650.5,850.2 651.5,848.1 651.5,899 652.5,862.6 652.5,906.9 653.5,854.3 653.5,916.8 654.5,851.5 654.5,940.9 655.5,869.7 655.5,906.5 656.5,903.8 656.5,858.3 657.5,915.8 657.5,871.2 658.5,869.5 658.5,937.5 659.5,924.5 659.5,863 660.5,867.5 660.5,913 661.5,909.7 661.5,857.1 662.5,850.5 662.5,907.9 663.5,899.2 663.5,854.9 664.5,891.8 664.5,839 665.5,893.9 665.5,835.4 666.5,836.5 666.5,883.8 667.5,891.3 667.5,844.5 668.5,845.5 668.5,898.4 669.5,844.8 669.5,881.1 670.5,871.7 670.5,835.3 671.5,890.9 671.5,822.9 672.5,825.9 672.5,887.4 673.5,887.5 673.5,836.8 674.5,843.3 674.5,892.3 675.5,892.5 675.5,855.2 676.5,845.8 676.5,910.9 677.5,894.3 677.5,842 678.5,846.3 678.5,908.7 679.5,896 679.5,857.1 680.5,893.9 680.5,827.6 681.5,851.5 681.5,907.9 682.5,908.3 682.5,863.8 683.5,898.4 683.5,849.9 684.5,900.3 684.5,845.2 685.5,887.4 685.5,832.8 686.5,894.8 686.5,859.2 687.5,926.1 687.5,859.1 688.5,899.6 688.5,827.9 689.5,837.8 689.5,885.2 690.5,847.3 690.5,922.4 691.5,895.7 691.5,850 692.5,898.1 692.5,846.8 693.5,843.4 693.5,900 694.5,900.9 694.5,848.3 695.5,904.8 695.5,860.5 696.5,865.5 696.5,909.4 697.5,875.9 697.5,919 698.5,856.4 698.5,894.7 699.5,864.8 699.5,914.6 700.5,902.6 700.5,829.7 701.5,859.6 701.5,900.5 702.5,904 702.5,852 703.5,900.5 703.5,848.1 704.5,907.7 704.5,840.2 705.5,836.4 705.5,899.8 706.5,905.4 706.5,860.4 707.5,852.1 707.5,907.4 708.5,852.2 708.5,894 709.5,848.2 709.5,903.4 710.5,900.7 710.5,853.8 711.5,897.1 711.5,860.6 712.5,879.7 712.5,842.9 713.5,886.6 713.5,845 714.5,905.2 714.5,849.8 715.5,846.6 715.5,891.4 716.5,900.1 716.5,864.7 717.5,852.8 717.5,910.6 718.5,895.9 718.5,841.8 719.5,855 719.5,907.1 720.5,837.9 720.5,915.2 721.5,876.7 721.5,830.7 722.5,834.1 722.5,893.4 723.5,840.5 723.5,877.9 724.5,815.7 724.5,893.5 725.5,889.1 725.5,854.8 726.5,896.3 726.5,825.9 727.5,881.5 727.5,838.5 728.5,834.5 728.5,899.9 729.5,883.3 729.5,844.9 730.5,840.1 730.5,907.2 731.5,924.2 731.5,854.3 732.5,922 732.5,865.5 733.5,919.8 733.5,866.3 734.5,848.1 734.5,912.6 735.5,863.9 735.5,898.8 736.5,863.2 736.5,905.8 737.5,857.8 737.5,922 738.5,869.1 738.5,931.5 739.5,859.2 739.5,914.3 740.5,913 740.5,840.7 741.5,847.2 741.5,918.3 742.5,908.5 742.5,853.3 743.5,853.7 743.5,889.6 744.5,899.8 744.5,847.5 745.5,833.6 745.5,889.1 746.5,886.5 746.5,829.6 747.5,886.5 747.5,840.9 748.5,907.6 748.5,857.3 749.5,910.4 749.5,862.9 750.5,852.2 750.5,912.7 751.5,864.5 751.5,901.8 752.5,849.2 752.5,888.6 753.5,857 753.5,923.5 754.5,905.7 754.5,863.9 755.5,929.5 755.5,872 756.5,902.9 756.5,851.3 757.5,927.6 757.5,858.3 758.5,909.4 758.5,864.2 759.5,910.6 759.5,856.7 760.5,903 760.5,863.2 761.5,910.5 761.5,857.5 762.5,845.4 762.5,900.7 763.5,910 763.5,852.5 764.5,851.3 764.5,908.5 765.5,890.4 765.5,837.1 766.5,899.1 766.5,854.5 767.5,908.4 767.5,856.7 768.5,912.8 768.5,834.3 769.5,890.9 769.5,855.3 770.5,901.9 770.5,834.6 771.5,844.3 771.5,890 772.5,861.5 772.5,901.9 772.6,922.4 772.6,849.6" stroke="#000" stroke-width="1.8" fill="none" stroke-linejoin="bevel"/>
<g stroke="#000" fill="none">
<rect x="107" y="627.45" width="666.2" height="487.55" stroke-width="2"/>
<path d="M99 1115H107M99 992.65H107M99 870.3H107M99 747.95H107M99 625.6H107M107 1115V1123M240.24 1115V1123M373.48 1115V1123M506.72 1115V1123M639.96 1115V1123M773.2 1115V1123" stroke-width="2" stroke-linecap="round"/>
</g>
<g font-size="23.73" text-anchor="end">
<text transform="translate(88.37 1123.19) scale(0.921 1)">240</text>
<text transform="translate(88.37 1000.84) scale(0.921 1)">260</text>
<text transform="translate(88.37 878.49) scale(0.921 1)">280</text>
<text transform="translate(88.37 756.14) scale(0.921 1)">300</text>
<text transform="translate(88.37 633.79) scale(0.921 1)">320</text>
</g>
<g font-size="23.13" text-anchor="middle">
<text transform="translate(107 1154.47) scale(0.934 1)">0</text>
<text transform="translate(240.24 1154.47) scale(0.934 1)">20</text>
<text transform="translate(373.48 1154.47) scale(0.934 1)">40</text>
<text transform="translate(506.72 1154.47) scale(0.934 1)">60</text>
<text transform="translate(639.96 1154.47) scale(0.934 1)">80</text>
<text transform="translate(773.2 1154.47) scale(0.934 1)">100</text>
</g>
<text transform="translate(145.4 691.59) scale(0.910 1)" font-size="41.27" font-weight="bold">C</text>
<text transform="translate(377.75 1194.9) scale(0.937 1)" font-size="27.54">Time (ns)</text>
<text transform="translate(31 927.9) rotate(-90) scale(0.98 1)" font-size="28.4" font-weight="bold">Area (nm<tspan dy="-11.8" font-size="27.2">2</tspan><tspan dy="11.8">)</tspan></text>
<line x1="492.9" y1="698.4" x2="543.6" y2="698.4" stroke="#ff0000" stroke-width="2.2"/>
<line x1="492.9" y1="729.6" x2="543.6" y2="729.6" stroke="#000" stroke-width="2"/>
<text transform="translate(554.42 706.97) scale(0.935 1)" font-size="23.1">Catalase</text>
<text transform="translate(554.42 738.07) scale(0.936 1)" font-size="23.1">Catalase + SAC</text>
</g>
<g id="panelD">
<path d="M960.4,943.5 960.4,907.7 961.3,942.1 961.3,906.4 962.3,950 962.3,895.6 963.3,906.6 963.3,950.9 964.3,935.8 964.3,898.3 965.3,950 965.3,909.4 966.3,906.1 966.3,946 967.3,933.4 967.3,896.3 968.3,901 968.3,949.6 969.3,947.5 969.3,904.7 970.3,896.1 970.3,944 971.3,895.9 971.3,937.3 972.3,895.8 972.3,935.9 973.3,926.2 973.3,895 974.3,931.4 974.3,887.7 975.3,905.7 975.3,939.3 976.3,938.3 976.3,905.6 977.3,897.5 977.3,925 978.3,935.7 978.3,899.4 979.3,901.8 979.3,936.1 980.3,899.7 980.3,935.2 981.3,901.5 981.3,923.5 982.3,937.1 982.3,894.2 983.3,948.9 983.3,902 984.3,893.6 984.3,924.9 985.3,883.2 985.3,932.1 986.3,929 986.3,884.6 987.3,942.7 987.3,893.1 988.3,906.9 988.3,937.5 989.3,890.4 989.3,935.8 990.3,926.8 990.3,905.3 991.3,908.4 991.3,954.4 992.3,945.3 992.3,903.5 993.3,946.1 993.3,907.6 994.3,946.4 994.3,907.2 995.3,913 995.3,948.6 996.3,906.1 996.3,944.6 997.3,952.3 997.3,903.8 998.3,907.6 998.3,964 999.3,945.4 999.3,908.6 1000.3,895.1 1000.3,944 1001.3,888.8 1001.3,938.1 1002.3,927.7 1002.3,898.7 1003.3,928.1 1003.3,890 1004.3,902 1004.3,932.2 1005.3,916.6 1005.3,950 1006.3,947.3 1006.3,909.1 1007.3,899.2 1007.3,948.4 1008.3,903.2 1008.3,941.4 1009.3,888 1009.3,927.8 1010.3,927.6 1010.3,890 1011.3,886.7 1011.3,922.3 1012.3,899.5 1012.3,939.1 1013.3,903.6 1013.3,943.7 1014.3,950.8 1014.3,887.1 1015.3,901.1 1015.3,935.8 1016.3,904.5 1016.3,943.2 1017.3,910 1017.3,938.2 1018.3,914.3 1018.3,949.7 1019.3,911.3 1019.3,951.4 1020.3,913.2 1020.3,951 1021.3,944.3 1021.3,910.8 1022.3,895 1022.3,943.8 1023.3,946 1023.3,901.7 1024.3,946.4 1024.3,903.7 1025.3,930.5 1025.3,885.7 1026.3,895.6 1026.3,933.5 1027.3,902.1 1027.3,945 1028.3,938.4 1028.3,910.1 1029.3,923.2 1029.3,899.3 1030.3,934.6 1030.3,891.8 1031.3,897 1031.3,941.4 1032.3,935.1 1032.3,895.6 1033.3,911.6 1033.3,943.7 1034.3,944.5 1034.3,920.1 1035.3,902.5 1035.3,948.6 1036.3,963 1036.3,900.8 1037.3,945.3 1037.3,898 1038.3,911.5 1038.3,947.4 1039.3,907.2 1039.3,943.3 1040.3,900.5 1040.3,943.2 1041.3,907.8 1041.3,957.9 1042.3,947.5 1042.3,902.5 1043.3,907.5 1043.3,943.8 1044.3,943 1044.3,900.4 1045.3,939.4 1045.3,911.8 1046.3,947.6 1046.3,896.4 1047.3,958.7 1047.3,906.6 1048.3,955.2 1048.3,907.9 1049.3,924.5 1049.3,953.9 1050.3,942.6 1050.3,903.8 1051.3,947.4 1051.3,899.5 1052.3,912 1052.3,944.6 1053.3,906 1053.3,943.6 1054.3,912.4 1054.3,943.3 1055.3,906.7 1055.3,950.5 1056.3,945.6 1056.3,894.9 1057.3,934.4 1057.3,902.7 1058.3,940.8 1058.3,903.5 1059.3,902.9 1059.3,952.8 1060.3,944.7 1060.3,909.1 1061.3,940 1061.3,898.8 1062.3,941.3 1062.3,904.3 1063.3,902.9 1063.3,941.7 1064.3,896.4 1064.3,936 1065.3,917.9 1065.3,936.2 1066.3,910.7 1066.3,954.3 1067.3,910.8 1067.3,954.4 1068.3,943.9 1068.3,913 1069.3,904.6 1069.3,947.6 1070.3,952.9 1070.3,892.6 1071.3,912 1071.3,944 1072.3,904.7 1072.3,946.8 1073.3,910.5 1073.3,950.7 1074.3,911.1 1074.3,960 1075.3,902 1075.3,949.8 1076.3,944.9 1076.3,917.2 1077.3,964.4 1077.3,914.1 1078.3,968.2 1078.3,925.8 1079.3,910.5 1079.3,961.2 1080.3,949.5 1080.3,911.7 1081.3,943.7 1081.3,899.6 1082.3,934.9 1082.3,894.5 1083.3,907 1083.3,955.6 1084.3,946.2 1084.3,912.7 1085.3,949.1 1085.3,914.2 1086.3,920.8 1086.3,959.5 1087.3,954.6 1087.3,919.6 1088.3,906.7 1088.3,955.6 1089.3,938.2 1089.3,909.8 1090.3,947.5 1090.3,911.4 1091.3,904.2 1091.3,935.8 1092.3,945.8 1092.3,917.6 1093.3,950 1093.3,919.7 1094.3,948.6 1094.3,906.8 1095.3,903.3 1095.3,938.9 1096.3,952.3 1096.3,910.8 1097.3,945.5 1097.3,910.2 1098.3,953.1 1098.3,912.2 1099.3,943.2 1099.3,905.9 1100.3,907.3 1100.3,934.3 1101.3,940.2 1101.3,898.3 1102.3,907.3 1102.3,934.8 1103.3,936.8 1103.3,894.9 1104.3,930.9 1104.3,898.4 1105.3,903.5 1105.3,933 1106.3,909.2 1106.3,955.3 1107.3,913.7 1107.3,949.6 1108.3,947.3 1108.3,913.5 1109.3,953.1 1109.3,916.9 1110.3,950.5 1110.3,914.3 1111.3,944.9 1111.3,906.9 1112.3,908.8 1112.3,941.8 1113.3,944.2 1113.3,908.4 1114.3,907.3 1114.3,947.7 1115.3,917.2 1115.3,944.1 1116.3,948 1116.3,903.8 1117.3,937.1 1117.3,898.2 1118.3,941.4 1118.3,912.6 1119.3,947.6 1119.3,904.2 1120.3,940.5 1120.3,901.9 1121.3,933.3 1121.3,906.2 1122.3,906.6 1122.3,943.8 1123.3,904.9 1123.3,941.5 1124.3,943.9 1124.3,899 1125.3,928.8 1125.3,895.7 1126.3,937 1126.3,894.1 1127.3,901.1 1127.3,954.6 1128.3,912.3 1128.3,950.2 1129.3,928.5 1129.3,906.2 1130.3,937.1 1130.3,908.7 1131.3,900.9 1131.3,950.2 1132.3,908.9 1132.3,950.6 1133.3,935.4 1133.3,903 1134.3,934 1134.3,905.5 1135.3,946.7 1135.3,895 1136.3,911.6 1136.3,954.4 1137.3,957.6 1137.3,910.4 1138.3,957 1138.3,919 1139.3,947.5 1139.3,912.9 1140.3,904.1 1140.3,940.3 1141.3,967.1 1141.3,901.6 1142.3,909.7 1142.3,953.9 1143.3,891.9 1143.3,946.8 1144.3,940.6 1144.3,899.3 1145.3,948.6 1145.3,909 1146.3,948 1146.3,912.1 1147.3,908.7 1147.3,940.8 1148.3,894.9 1148.3,957 1149.3,922.9 1149.3,959.5 1150.3,961.4 1150.3,919.1 1151.3,926.9 1151.3,959 1152.3,948.5 1152.3,914.5 1153.3,972.5 1153.3,932.6 1154.3,950.9 1154.3,917.6 1155.3,913 1155.3,951.4 1156.3,930.6 1156.3,956.9 1157.3,923.8 1157.3,950.5 1158.3,957.8 1158.3,906.3 1159.3,945.2 1159.3,910.4 1160.3,947.6 1160.3,901.5 1161.3,910 1161.3,954.8 1162.3,912.7 1162.3,950.6 1163.3,918 1163.3,954.9 1164.3,951.8 1164.3,918.2 1165.3,905.1 1165.3,950.9 1166.3,914.5 1166.3,947.2 1167.3,959.2 1167.3,906.3 1168.3,936 1168.3,895.2 1169.3,942.1 1169.3,909.8 1170.3,941.8 1170.3,910.6 1171.3,894.1 1171.3,929.3 1172.3,904.2 1172.3,953.6 1173.3,940.9 1173.3,904.6 1174.3,895.4 1174.3,959.8 1175.3,944.2 1175.3,903.3 1176.3,946.8 1176.3,900.6 1177.3,942.9 1177.3,897.1 1178.3,911.9 1178.3,956.2 1179.3,909.3 1179.3,954.2 1180.3,944.5 1180.3,909.5 1181.3,917 1181.3,956.2 1182.3,911.4 1182.3,934.7 1183.3,942.8 1183.3,899.7 1184.3,952.4 1184.3,916.3 1185.3,914.3 1185.3,948 1186.3,950.6 1186.3,892.6 1187.3,906.8 1187.3,940 1188.3,906.7 1188.3,944.7 1189.3,933.5 1189.3,885.5 1190.3,944.9 1190.3,901.1 1191.3,894.6 1191.3,944.3 1192.3,949.9 1192.3,915.7 1193.3,904.2 1193.3,953.1 1194.3,909.3 1194.3,940.2 1195.3,953.5 1195.3,907 1196.3,908.4 1196.3,941 1197.3,946.3 1197.3,902.2 1198.3,900.2 1198.3,936.2 1199.3,907.8 1199.3,942.5 1200.3,940.9 1200.3,904.3 1201.3,909.9 1201.3,942.4 1202.3,905.6 1202.3,951.8 1203.3,949.1 1203.3,900.5 1204.3,945.6 1204.3,899.7 1205.3,916.3 1205.3,936.5 1206.3,891.8 1206.3,946.6 1207.3,929.8 1207.3,903.9 1208.3,927 1208.3,889.5 1209.3,930.6 1209.3,870 1210.3,929.7 1210.3,887 1211.3,929.1 1211.3,888.7 1212.3,929.2 1212.3,894.3 1213.3,899 1213.3,939.9 1214.3,907.8 1214.3,936 1215.3,939.9 1215.3,891.7 1216.3,955.6 1216.3,884.5 1217.3,890.2 1217.3,941.4 1218.3,900.4 1218.3,948.4 1219.3,953.6 1219.3,896.4 1220.3,894.2 1220.3,942.3 1221.3,934.8 1221.3,900.3 1222.3,930.8 1222.3,905.7 1223.3,895.8 1223.3,947.7 1224.3,902.4 1224.3,941.7 1225.3,950.4 1225.3,910.2 1226.3,937.7 1226.3,900.7 1227.3,894.2 1227.3,951.1 1228.3,952.1 1228.3,900.8 1229.3,912 1229.3,952.1 1230.3,904.3 1230.3,961.5 1231.3,944.9 1231.3,898 1232.3,914.7 1232.3,945.5 1233.3,946.1 1233.3,898.2 1234.3,950.3 1234.3,896.5 1235.3,908.5 1235.3,955.3 1236.3,914.3 1236.3,953.5 1237.3,914.3 1237.3,948.1 1238.3,914.1 1238.3,961.7 1239.3,940.3 1239.3,904.3 1240.3,904.2 1240.3,951.1 1241.3,920.6 1241.3,956.1 1242.3,945.4 1242.3,909.1 1243.3,955.9 1243.3,904.9 1244.3,951.2 1244.3,903.4 1245.3,936.6 1245.3,901.5 1246.3,902.2 1246.3,946.1 1247.3,917.7 1247.3,961.8 1248.3,912.2 1248.3,955.9 1249.3,907.4 1249.3,952.1 1250.3,909.9 1250.3,946 1251.3,939.8 1251.3,909.7 1252.3,934.5 1252.3,892.5 1253.3,941.9 1253.3,915.6 1254.3,899.8 1254.3,944.5 1255.3,910.4 1255.3,947.8 1256.3,905.5 1256.3,952.9 1257.3,901.7 1257.3,953.8 1258.3,903.4 1258.3,947 1259.3,893 1259.3,946.5 1260.3,939.2 1260.3,894.8 1261.3,895.4 1261.3,943.6 1262.3,952.9 1262.3,905.1 1263.3,904.2 1263.3,939.7 1264.3,934.6 1264.3,893.9 1265.3,911 1265.3,933.6 1266.3,891.9 1266.3,934.3 1267.3,939.2 1267.3,899.2 1268.3,910.6 1268.3,942.1 1269.3,908.1 1269.3,946.9 1270.3,932.8 1270.3,910.6 1271.3,940 1271.3,903 1272.3,887.8 1272.3,941.5 1273.3,934.7 1273.3,894 1274.3,935.3 1274.3,898.5 1275.3,939.1 1275.3,912.4 1276.3,953.3 1276.3,898.6 1277.3,963.4 1277.3,916.8 1278.3,940.1 1278.3,910.9 1279.3,953.9 1279.3,896.1 1280.3,904.5 1280.3,948.8 1281.3,914 1281.3,951.4 1282.3,946.8 1282.3,899.7 1283.3,939 1283.3,912.5 1284.3,911.7 1284.3,954.3 1285.3,953.4 1285.3,906 1286.3,950 1286.3,897.2 1287.3,895.6 1287.3,949.6 1288.3,936 1288.3,903.3 1289.3,935.5 1289.3,887.4 1290.3,907.6 1290.3,943.8 1291.3,912 1291.3,933.7 1292.3,893.7 1292.3,941.2 1293.3,944.6 1293.3,898.4 1294.3,933.2 1294.3,910.4 1295.3,906.9 1295.3,948.8 1296.3,945.3 1296.3,890.6 1297.3,901.6 1297.3,942 1298.3,939.4 1298.3,889.3 1299.3,923 1299.3,900.9 1300.3,893.5 1300.3,934.4 1301.3,938.7 1301.3,886.8 1302.3,906.6 1302.3,938.3 1303.3,930.4 1303.3,902.5 1304.3,913.2 1304.3,941.7 1305.3,951.9 1305.3,900.6 1306.3,942.6 1306.3,903.6 1307.3,935.3 1307.3,895.9 1308.3,909.9 1308.3,949.3 1309.3,941.7 1309.3,904.9 1310.3,908.5 1310.3,937.4 1311.3,888.9 1311.3,933.1 1312.3,944 1312.3,900.4 1313.3,933.2 1313.3,894.4 1314.3,898 1314.3,949.9 1315.3,950.2 1315.3,903.2 1316.3,905.1 1316.3,942.7 1317.3,895.3 1317.3,939.3 1318.3,944.4 1318.3,887.6 1319.3,928.2 1319.3,900.3 1320.3,907.9 1320.3,945.6 1321.3,940.5 1321.3,912.8 1322.3,909.2 1322.3,946.5 1323.3,940.9 1323.3,908.7 1324.3,913.4 1324.3,947.2 1325.3,928.7 1325.3,897.4 1326.3,941.2 1326.3,892 1327.3,896.7 1327.3,941 1328.3,937.8 1328.3,897.7 1329.3,898.4 1329.3,930.5 1330.3,899.4 1330.3,939.2 1331.3,895.3 1331.3,932.4 1332.3,906.3 1332.3,933.2 1333.3,942.8 1333.3,903.5 1334.3,932.3 1334.3,905.3 1335.3,930 1335.3,905 1336.3,939.8 1336.3,916.6 1337.3,898.8 1337.3,956.7 1338.3,905.9 1338.3,944.4 1339.3,931.6 1339.3,896.7 1340.3,910.6 1340.3,951.4 1341.3,950.9 1341.3,914.5 1342.3,897.5 1342.3,946.4 1343.3,934.6 1343.3,897.8 1344.3,942.8 1344.3,899.4 1345.3,903.8 1345.3,956.7 1346.3,902.4 1346.3,945.9 1347.3,899.3 1347.3,941.3 1348.3,932.4 1348.3,910.4 1349.3,891.2 1349.3,944.8 1350.3,906.3 1350.3,939.2 1351.3,946.2 1351.3,896.6 1352.3,902.5 1352.3,952.1 1353.3,935.1 1353.3,907.9 1354.3,956.9 1354.3,901.4 1355.3,953.8 1355.3,892.8 1356.3,946.5 1356.3,907.3 1357.3,899.4 1357.3,953.1 1358.3,938.6 1358.3,894.1 1359.3,906.7 1359.3,943.5 1360.3,935 1360.3,900.9 1361.3,909.7 1361.3,939.1 1362.3,893.7 1362.3,934.6 1363.3,943.3 1363.3,901.3 1364.3,936.9 1364.3,903.9 1365.3,901 1365.3,951.4 1366.3,936 1366.3,891.4 1367.3,926.2 1367.3,896.3 1368.3,906.7 1368.3,948 1369.3,952.7 1369.3,895.4 1370.3,953.8 1370.3,908.7 1371.3,908.9 1371.3,944.5 1372.3,894.7 1372.3,938.2 1373.3,932.9 1373.3,900.6 1374.3,910.1 1374.3,936.1 1375.3,930.8 1375.3,900.3 1376.3,924.3 1376.3,952.6 1377.3,938.4 1377.3,909.1 1378.3,940.2 1378.3,877.3 1379.3,903.4 1379.3,941.7 1380.3,934.2 1380.3,908.4 1381.3,939.9 1381.3,899.3 1382.3,935.9 1382.3,883.4 1383.3,942.2 1383.3,890.6 1384.3,914.1 1384.3,954.3 1385.3,890.7 1385.3,964.3 1386.3,943.3 1386.3,909.1 1387.3,946.2 1387.3,900.8 1388.3,947.6 1388.3,895.5 1389.3,920.8 1389.3,954.6 1390.3,910.7 1390.3,943.3 1391.3,894.5 1391.3,936.9 1392.3,897.4 1392.3,927.7 1393.3,898.9 1393.3,944.2 1394.3,903.9 1394.3,947.5 1395.3,953.4 1395.3,897 1396.3,955.3 1396.3,896.7 1397.3,947.5 1397.3,908.5 1398.3,916.8 1398.3,954.9 1399.3,906.2 1399.3,946.7 1400.3,944 1400.3,921.6 1401.3,963.5 1401.3,915.4 1402.3,937.6 1402.3,902.3 1403.3,899.2 1403.3,946.1 1404.3,895 1404.3,935.2 1405.3,902.9 1405.3,941.2 1406.3,900.7 1406.3,943.7 1407.3,909.5 1407.3,960.3 1408.3,911.7 1408.3,948.5 1409.3,903.6 1409.3,948.3 1410.3,896.3 1410.3,939.5 1411.3,897.5 1411.3,931.7 1412.3,904.9 1412.3,946.3 1413.3,947.5 1413.3,902.8 1414.3,944.4 1414.3,904.1 1415.3,950 1415.3,903.4 1416.3,946.1 1416.3,903.2 1417.3,927.4 1417.3,898.3 1418.3,912.8 1418.3,949 1419.3,946.3 1419.3,905.2 1420.3,901.5 1420.3,945 1421.3,914.8 1421.3,946.9 1422.3,942.7 1422.3,898.4 1423.3,940.7 1423.3,902.4 1424.3,951.1 1424.3,909.6 1425.3,956.4 1425.3,913.6 1426.3,937.4 1426.3,907.7 1427.3,949.5 1427.3,898 1428.3,938.2 1428.3,888.6 1429.3,947.8 1429.3,897.9 1430.3,965.1 1430.3,917.2 1431.3,920.2 1431.3,962.1 1432.3,951.2 1432.3,904.9 1433.3,919.4 1433.3,944.3 1434.3,957.6 1434.3,916.4 1435.3,953 1435.3,903.4 1436.3,915.2 1436.3,940.5 1437.3,950.3 1437.3,903.9 1438.3,949.3 1438.3,913 1439.3,951.4 1439.3,885.2 1440.3,901.3 1440.3,951.2 1441.3,940.8 1441.3,906.9 1442.3,910.6 1442.3,962.6 1443.3,955 1443.3,894.5 1444.3,945.6 1444.3,905.9 1445.3,942.1 1445.3,891.7 1446.3,937.6 1446.3,890.9 1447.3,883.8 1447.3,942.4 1448.3,952.2 1448.3,888.1 1449.3,966.8 1449.3,911.9 1450.3,916.3 1450.3,943.6 1451.3,945.9 1451.3,902.1 1452.3,914.1 1452.3,942.4 1453.3,907.5 1453.3,936.4 1454.3,897 1454.3,941.5 1455.3,895.6 1455.3,932.4 1456.3,897.7 1456.3,936.2 1457.3,910.1 1457.3,959.7 1458.3,913.6 1458.3,946.9 1459.3,948 1459.3,898.3 1460.3,908.7 1460.3,958.2 1461.3,886.4 1461.3,938.6 1462.3,895.7 1462.3,926.1 1463.3,895.6 1463.3,938.8 1464.3,891.7 1464.3,942 1465.3,893.8 1465.3,935.5 1466.3,897.1 1466.3,929.6 1467.3,926.1 1467.3,893.9 1468.3,938.4 1468.3,897.9 1469.3,930 1469.3,894.8 1470.3,934.7 1470.3,903.6 1471.3,945 1471.3,897.8 1472.3,933.4 1472.3,901 1473.3,930.7 1473.3,903.4 1474.3,933 1474.3,885.1 1475.3,940.9 1475.3,905.9 1476.3,887 1476.3,931.3 1477.3,902.9 1477.3,935.6 1478.3,932.5 1478.3,889.9 1479.3,935.6 1479.3,886.4 1480.3,895.2 1480.3,957 1481.3,888 1481.3,926.4 1482.3,918.5 1482.3,863.9 1483.3,924.7 1483.3,890.5 1484.3,935 1484.3,885.8 1485.3,895.4 1485.3,928.5 1486.3,932.9 1486.3,904.8 1487.3,890.7 1487.3,936.3 1488.3,890.6 1488.3,939.9 1489.3,894.4 1489.3,931.5 1490.3,932.1 1490.3,897.3 1491.3,908.7 1491.3,941 1492.3,943.9 1492.3,890.6 1493.3,896.8 1493.3,936.2 1494.3,937.7 1494.3,887.5 1495.3,929.5 1495.3,900.8 1496.3,884.2 1496.3,952.3 1497.3,950.8 1497.3,906.2 1498.3,907.4 1498.3,933.8 1499.3,898.1 1499.3,944.2 1500.3,899.4 1500.3,934.9 1501.3,937.8 1501.3,901.7 1502.3,909.2 1502.3,945.2 1503.3,938.4 1503.3,908.7 1504.3,904.9 1504.3,934.3 1505.3,931.7 1505.3,896.3 1506.3,948.6 1506.3,900.1 1507.3,934.7 1507.3,893 1508.3,938.1 1508.3,887.4 1509.3,898 1509.3,932.7 1510.3,937.8 1510.3,892 1511.3,903.8 1511.3,933 1512.3,901.2 1512.3,941.6 1513.3,895.2 1513.3,947.2 1514.3,938.5 1514.3,885.9 1515.3,942.1 1515.3,902.9 1516.3,932.8 1516.3,890.3 1517.3,891.3 1517.3,928.4 1518.3,937.4 1518.3,905.4 1519.3,932.4 1519.3,903.1 1520.3,926.6 1520.3,903.9 1521.3,934.8 1521.3,903.2 1522.3,900.3 1522.3,943.7 1523.3,943.5 1523.3,900.3 1524.3,906.3 1524.3,949.4 1525.3,901.3 1525.3,927.5 1526.3,903.5 1526.3,928.5 1527.3,942 1527.3,890.9 1528.3,946.3 1528.3,900.4 1529.3,941.1 1529.3,910 1530.3,916.7 1530.3,935.8 1531.3,939.8 1531.3,896.8 1532.3,898 1532.3,939.4 1533.3,935.5 1533.3,893.6 1534.3,936.8 1534.3,912.8 1535.3,938.5 1535.3,893.5 1536.3,939.6 1536.3,898.6 1537.3,905 1537.3,935.4 1538.3,874.4 1538.3,937.7 1539.3,894.6 1539.3,942.6 1540.3,941.6 1540.3,897.2 1541.3,938.8 1541.3,890.1 1542.3,939.4 1542.3,904.1 1543.3,900.1 1543.3,944.3 1544.3,907.3 1544.3,956.3 1545.3,935.2 1545.3,900.5 1546.3,882.5 1546.3,930.5 1547.3,947.6 1547.3,895.5 1548.3,894.1 1548.3,946.6 1549.3,941.7 1549.3,899.3 1550.3,908.8 1550.3,940.2 1551.3,948.4 1551.3,898.6 1552.3,945.2 1552.3,882.6 1553.3,892.6 1553.3,930 1554.3,933.1 1554.3,893 1555.3,931.6 1555.3,899.7 1556.3,908.6 1556.3,939.3 1557.3,894.2 1557.3,931.9 1558.3,887.2 1558.3,927.7 1559.3,920.9 1559.3,887.5 1560.3,903.1 1560.3,944 1561.3,898.4 1561.3,925.5 1562.3,890.3 1562.3,938 1563.3,894.5 1563.3,930 1564.3,887.6 1564.3,940.9 1565.3,922 1565.3,895.7 1566.3,889.9 1566.3,939.5 1567.3,904.9 1567.3,937.8 1568.3,894.3 1568.3,938.4 1569.3,938.7 1569.3,892.7 1570.3,902.6 1570.3,944.3 1571.3,908.1 1571.3,943.3 1572.3,911.4 1572.3,943.9 1573.3,936.6 1573.3,903.1 1574.3,946.9 1574.3,907.9 1575.3,943.8 1575.3,900.8 1576.3,905.2 1576.3,971.3 1577.3,948 1577.3,904.4 1578.3,935.2 1578.3,896.8 1579.3,938.5 1579.3,906.1 1580.3,954.6 1580.3,906.1 1581.3,950.5 1581.3,922.6 1582.3,912 1582.3,952 1583.3,907.4 1583.3,947.1 1584.3,911.6 1584.3,933.7 1585.3,894.9 1585.3,942.5 1586.3,894 1586.3,944.9 1587.3,940.9 1587.3,902.9 1588.3,908.2 1588.3,953.4 1589.3,908.1 1589.3,956.7 1590.3,937.7 1590.3,905.8 1591.3,900 1591.3,944.4 1592.3,935.4 1592.3,889.9 1593.3,902.8 1593.3,940 1594.3,904.7 1594.3,942.5 1595.3,890.3 1595.3,937.4 1596.3,892.6 1596.3,938.4 1597.3,906.2 1597.3,939.2 1598.3,891.9 1598.3,954.7 1599.3,905.2 1599.3,939.5 1600.3,904.2 1600.3,932.3 1601.3,913.8 1601.3,946.8 1602.3,915.4 1602.3,936.6 1603.3,940.1 1603.3,903.9 1604.3,945.5 1604.3,899.5 1605.3,928.3 1605.3,896.9 1606.3,919 1606.3,959.8 1607.3,899.2 1607.3,958.9 1608.3,953.1 1608.3,901.6 1609.3,910.5 1609.3,949.7 1610.3,898.4 1610.3,925.4 1611.3,927.9 1611.3,894.7 1612.3,897.8 1612.3,934.9 1613.3,954.4 1613.3,898.6 1614.3,935.7 1614.3,901.5 1615.3,912.5 1615.3,935.4 1616.3,897.4 1616.3,948.6 1617.3,928.1 1617.3,896.6 1618.3,938.6 1618.3,892.8 1618.8,909.7 1618.8,936" stroke="#ff0000" stroke-width="1.8" fill="none" stroke-linejoin="bevel"/>
<path d="M960.4,878.5 960.4,923.5 961.3,920.2 961.3,859.6 962.3,865.6 962.3,918.2 963.3,893.9 963.3,935.3 964.3,882.8 964.3,916.7 965.3,913.1 965.3,869.8 966.3,877.5 966.3,921.7 967.3,877.5 967.3,923.6 968.3,923.7 968.3,884.1 969.3,858.9 969.3,912.4 970.3,891.1 970.3,863.9 971.3,908.6 971.3,868.2 972.3,906.1 972.3,877.2 973.3,908.6 973.3,867.7 974.3,872 974.3,917.4 975.3,908.8 975.3,869.3 976.3,879.9 976.3,914.3 977.3,856.1 977.3,921 978.3,918.6 978.3,878 979.3,876.4 979.3,912.1 980.3,872 980.3,935.7 981.3,921.9 981.3,870.3 982.3,873.4 982.3,908.1 983.3,877.2 983.3,918 984.3,887.3 984.3,915.8 985.3,869.2 985.3,918.3 986.3,912 986.3,881.6 987.3,879.6 987.3,924.2 988.3,871.3 988.3,923.4 989.3,910.4 989.3,873.9 990.3,921.1 990.3,880.1 991.3,879.1 991.3,932.3 992.3,881.1 992.3,916.2 993.3,903.5 993.3,862.3 994.3,906.5 994.3,863 995.3,860.8 995.3,901.3 996.3,886 996.3,858.6 997.3,863.6 997.3,907.5 998.3,861.5 998.3,914.7 999.3,861 999.3,914.9 1000.3,901.5 1000.3,868.5 1001.3,907 1001.3,854.3 1002.3,924.1 1002.3,867.5 1003.3,881.4 1003.3,934 1004.3,852.8 1004.3,909.7 1005.3,911.1 1005.3,868.6 1006.3,904.7 1006.3,869.7 1007.3,917.3 1007.3,876.3 1008.3,907.6 1008.3,879.2 1009.3,874 1009.3,918 1010.3,858.6 1010.3,910.2 1011.3,904.7 1011.3,866.6 1012.3,865.7 1012.3,906.1 1013.3,888.9 1013.3,855.2 1014.3,873.7 1014.3,904.2 1015.3,909.9 1015.3,867.9 1016.3,850.4 1016.3,908 1017.3,863.7 1017.3,903.3 1018.3,859.5 1018.3,897.5 1019.3,873.7 1019.3,913.5 1020.3,899.8 1020.3,841.5 1021.3,862.6 1021.3,911.3 1022.3,866 1022.3,909.6 1023.3,849.1 1023.3,899.4 1024.3,895.4 1024.3,861.3 1025.3,918.2 1025.3,852.1 1026.3,898.8 1026.3,868.6 1027.3,870.5 1027.3,893.3 1028.3,869.4 1028.3,899.3 1029.3,902.3 1029.3,874.6 1030.3,869 1030.3,907.2 1031.3,908.5 1031.3,854.8 1032.3,870.6 1032.3,908.1 1033.3,872.2 1033.3,912.5 1034.3,918 1034.3,865 1035.3,907.3 1035.3,872.8 1036.3,913.6 1036.3,879.2 1037.3,904 1037.3,859.4 1038.3,872.9 1038.3,920.4 1039.3,903.4 1039.3,859.9 1040.3,870.1 1040.3,905.7 1041.3,907.4 1041.3,845.5 1042.3,862.7 1042.3,916.6 1043.3,872 1043.3,920.1 1044.3,862 1044.3,920.3 1045.3,863.5 1045.3,940.8 1046.3,863.8 1046.3,909.8 1047.3,906.5 1047.3,875.3 1048.3,905.8 1048.3,850 1049.3,896.2 1049.3,858.4 1050.3,911.5 1050.3,866.3 1051.3,861.2 1051.3,916.7 1052.3,904.1 1052.3,879.3 1053.3,922.1 1053.3,869.7 1054.3,863.6 1054.3,906.1 1055.3,925.2 1055.3,852 1056.3,856.7 1056.3,905.3 1057.3,875.3 1057.3,912.5 1058.3,879.7 1058.3,917.2 1059.3,876.2 1059.3,913.3 1060.3,869.4 1060.3,924.4 1061.3,870.8 1061.3,939 1062.3,879.9 1062.3,921.4 1063.3,874 1063.3,908.5 1064.3,875.1 1064.3,914.2 1065.3,910.9 1065.3,866 1066.3,858.6 1066.3,911.8 1067.3,856.1 1067.3,912 1068.3,896.2 1068.3,844.6 1069.3,856.9 1069.3,900.5 1070.3,847.9 1070.3,898.2 1071.3,860.5 1071.3,913.3 1072.3,912.7 1072.3,860.5 1073.3,857.1 1073.3,901.3 1074.3,870.5 1074.3,919.2 1075.3,858.1 1075.3,910 1076.3,860 1076.3,911.1 1077.3,863.5 1077.3,925.4 1078.3,857.5 1078.3,908.2 1079.3,855.1 1079.3,905.2 1080.3,904.1 1080.3,850.9 1081.3,913.9 1081.3,858.4 1082.3,903.3 1082.3,850.9 1083.3,900.6 1083.3,838.3 1084.3,884 1084.3,844.4 1085.3,860.4 1085.3,898 1086.3,857 1086.3,897.5 1087.3,903.9 1087.3,850.3 1088.3,920.5 1088.3,863.5 1089.3,865.1 1089.3,909.9 1090.3,875.1 1090.3,897.4 1091.3,896.1 1091.3,834.5 1092.3,854.1 1092.3,911.7 1093.3,859.5 1093.3,898.5 1094.3,856.8 1094.3,913.4 1095.3,867.6 1095.3,917.9 1096.3,869.2 1096.3,899.8 1097.3,893.3 1097.3,856.3 1098.3,854.4 1098.3,890.2 1099.3,888.3 1099.3,846.3 1100.3,843.1 1100.3,890.7 1101.3,895 1101.3,845 1102.3,860.8 1102.3,903.9 1103.3,851.5 1103.3,923.6 1104.3,912.2 1104.3,861.3 1105.3,895.3 1105.3,861.3 1106.3,861.1 1106.3,903.4 1107.3,849.9 1107.3,913.9 1108.3,887.8 1108.3,853.6 1109.3,892 1109.3,857.8 1110.3,846.4 1110.3,889.8 1111.3,887.7 1111.3,847.3 1112.3,881.4 1112.3,842.8 1113.3,851.7 1113.3,912.5 1114.3,892.2 1114.3,851.1 1115.3,910 1115.3,862.7 1116.3,904.9 1116.3,852.8 1117.3,895 1117.3,849.1 1118.3,911.9 1118.3,841.2 1119.3,855.4 1119.3,892.2 1120.3,851.6 1120.3,901.4 1121.3,855.3 1121.3,898.3 1122.3,857.4 1122.3,890.2 1123.3,835.5 1123.3,892.1 1124.3,884.3 1124.3,851.5 1125.3,890.2 1125.3,845.6 1126.3,853.9 1126.3,903.7 1127.3,890.4 1127.3,832.7 1128.3,853.3 1128.3,906.5 1129.3,861.1 1129.3,911.2 1130.3,911.9 1130.3,841.5 1131.3,891.1 1131.3,859.9 1132.3,889.7 1132.3,840.5 1133.3,852.2 1133.3,892.5 1134.3,856.5 1134.3,917.3 1135.3,865.3 1135.3,904.6 1136.3,843.4 1136.3,896.9 1137.3,891.5 1137.3,851.8 1138.3,877.4 1138.3,913.9 1139.3,918.3 1139.3,840.1 1140.3,858.1 1140.3,895.6 1141.3,903.2 1141.3,853.4 1142.3,884.9 1142.3,855 1143.3,861.3 1143.3,903.2 1144.3,906.5 1144.3,859.8 1145.3,874.9 1145.3,903.1 1146.3,909 1146.3,856 1147.3,913.9 1147.3,854.6 1148.3,866.8 1148.3,903.2 1149.3,908.1 1149.3,861.8 1150.3,897.3 1150.3,847.8 1151.3,852.2 1151.3,888.8 1152.3,866.7 1152.3,913.1 1153.3,904.7 1153.3,848.2 1154.3,906.9 1154.3,860.5 1155.3,845.9 1155.3,900.6 1156.3,864 1156.3,922.6 1157.3,921.1 1157.3,871.5 1158.3,924.5 1158.3,856.3 1159.3,904.3 1159.3,856.8 1160.3,874.5 1160.3,899.4 1161.3,897 1161.3,871.3 1162.3,868 1162.3,896.8 1163.3,911.2 1163.3,870.6 1164.3,899.9 1164.3,848.8 1165.3,852.9 1165.3,915.1 1166.3,905.6 1166.3,827.1 1167.3,902.8 1167.3,848.9 1168.3,902.1 1168.3,853.8 1169.3,846.9 1169.3,907.5 1170.3,891.1 1170.3,842.9 1171.3,898.3 1171.3,855.6 1172.3,914.7 1172.3,864.7 1173.3,857.9 1173.3,910.4 1174.3,886.4 1174.3,858.7 1175.3,865 1175.3,895 1176.3,868.7 1176.3,902.7 1177.3,895.9 1177.3,852.8 1178.3,899.2 1178.3,839 1179.3,873.2 1179.3,908 1180.3,909.3 1180.3,868.7 1181.3,899.9 1181.3,862.2 1182.3,862.4 1182.3,905.4 1183.3,862.7 1183.3,897.6 1184.3,882.7 1184.3,921.4 1185.3,884.1 1185.3,927.6 1186.3,865.9 1186.3,916.3 1187.3,881.5 1187.3,898.7 1188.3,901 1188.3,867 1189.3,896.7 1189.3,855.2 1190.3,864.6 1190.3,913.9 1191.3,871.4 1191.3,916.5 1192.3,920.8 1192.3,867.1 1193.3,884.3 1193.3,907 1194.3,912.6 1194.3,870.5 1195.3,860.2 1195.3,917.9 1196.3,920.8 1196.3,838 1197.3,870.4 1197.3,922.8 1198.3,861.8 1198.3,923.9 1199.3,907.9 1199.3,873.5 1200.3,875.3 1200.3,927 1201.3,898.9 1201.3,868.9 1202.3,863.6 1202.3,919.2 1203.3,858.7 1203.3,906.5 1204.3,858.2 1204.3,907 1205.3,906.2 1205.3,861.4 1206.3,860.8 1206.3,911.3 1207.3,862.6 1207.3,912.3 1208.3,899.7 1208.3,862 1209.3,910.6 1209.3,871.5 1210.3,928.4 1210.3,859.4 1211.3,906.4 1211.3,848.6 1212.3,860.9 1212.3,902.6 1213.3,893.7 1213.3,857.1 1214.3,864.4 1214.3,902.7 1215.3,908.4 1215.3,878.4 1216.3,924.2 1216.3,868.1 1217.3,922.1 1217.3,864.8 1218.3,955.8 1218.3,867 1219.3,939.6 1219.3,893.5 1220.3,887 1220.3,927.4 1221.3,930.5 1221.3,882 1222.3,931.5 1222.3,879.7 1223.3,920.8 1223.3,863.3 1224.3,912.4 1224.3,888.5 1225.3,875.6 1225.3,944.5 1226.3,907.9 1226.3,867.8 1227.3,920.9 1227.3,870.7 1228.3,876.8 1228.3,916.2 1229.3,919.1 1229.3,885.8 1230.3,935.8 1230.3,887.5 1231.3,906 1231.3,873.1 1232.3,886.9 1232.3,932.3 1233.3,890.4 1233.3,917.8 1234.3,915.1 1234.3,884.6 1235.3,880 1235.3,923.4 1236.3,923.9 1236.3,887.7 1237.3,878.3 1237.3,930.2 1238.3,925.7 1238.3,869.5 1239.3,910.8 1239.3,863 1240.3,882.6 1240.3,916.6 1241.3,928.7 1241.3,867.8 1242.3,914.5 1242.3,882.2 1243.3,875.5 1243.3,918.9 1244.3,865.4 1244.3,908.5 1245.3,878 1245.3,917.5 1246.3,856 1246.3,922.9 1247.3,926.3 1247.3,887.2 1248.3,873.5 1248.3,921 1249.3,927.3 1249.3,874.2 1250.3,910 1250.3,866.4 1251.3,867.2 1251.3,922.9 1252.3,927 1252.3,875.6 1253.3,924.7 1253.3,860.1 1254.3,935.6 1254.3,893.2 1255.3,893.5 1255.3,929 1256.3,885.5 1256.3,951.8 1257.3,896.3 1257.3,938.6 1258.3,884.9 1258.3,935.4 1259.3,889.6 1259.3,945.3 1260.3,937.4 1260.3,860 1261.3,875 1261.3,941.6 1262.3,884.4 1262.3,920.6 1263.3,897.4 1263.3,938.5 1264.3,924 1264.3,874.6 1265.3,874.6 1265.3,937.5 1266.3,868.5 1266.3,931.2 1267.3,891.6 1267.3,950.7 1268.3,893.6 1268.3,930.3 1269.3,893.3 1269.3,927.4 1270.3,927.2 1270.3,892.6 1271.3,919.8 1271.3,883.3 1272.3,879 1272.3,920.1 1273.3,923.5 1273.3,896.4 1274.3,892.9 1274.3,925.3 1275.3,916 1275.3,870.2 1276.3,877.8 1276.3,916.5 1277.3,947.8 1277.3,888.8 1278.3,923.4 1278.3,885.4 1279.3,884.1 1279.3,921.4 1280.3,893.1 1280.3,929.6 1281.3,925.3 1281.3,876.9 1282.3,865.5 1282.3,928.8 1283.3,929.5 1283.3,891 1284.3,934 1284.3,880.5 1285.3,875.9 1285.3,933.6 1286.3,888.9 1286.3,918.2 1287.3,918.6 1287.3,875.9 1288.3,890.7 1288.3,927.1 1289.3,925.4 1289.3,872.5 1290.3,877.1 1290.3,914.8 1291.3,872.3 1291.3,926.9 1292.3,926.9 1292.3,857.9 1293.3,901.5 1293.3,864.2 1294.3,872.8 1294.3,920.1 1295.3,866.4 1295.3,936.6 1296.3,873.5 1296.3,914.4 1297.3,897 1297.3,943.4 1298.3,943.2 1298.3,890.2 1299.3,926.6 1299.3,895 1300.3,868.7 1300.3,915.6 1301.3,926.9 1301.3,874.8 1302.3,917.8 1302.3,861.2 1303.3,910.2 1303.3,880.7 1304.3,914.7 1304.3,880.5 1305.3,918 1305.3,873.1 1306.3,872.6 1306.3,925.2 1307.3,895.7 1307.3,926.7 1308.3,923.1 1308.3,884.5 1309.3,904.6 1309.3,865.4 1310.3,879.3 1310.3,918.4 1311.3,890.2 1311.3,920.3 1312.3,876.2 1312.3,914.5 1313.3,922.5 1313.3,871.9 1314.3,890.6 1314.3,937.7 1315.3,884.4 1315.3,939.1 1316.3,913.1 1316.3,874.7 1317.3,875.7 1317.3,930.3 1318.3,913.2 1318.3,861.1 1319.3,860.7 1319.3,944.3 1320.3,913.1 1320.3,864.8 1321.3,858.7 1321.3,911.9 1322.3,900.1 1322.3,869.1 1323.3,886.4 1323.3,930.7 1324.3,869.9 1324.3,936.4 1325.3,916.2 1325.3,869 1326.3,914.1 1326.3,874.1 1327.3,881.7 1327.3,914.3 1328.3,878.2 1328.3,915 1329.3,896.7 1329.3,862.9 1330.3,924 1330.3,874.5 1331.3,870.5 1331.3,916.2 1332.3,872 1332.3,934.7 1333.3,869.5 1333.3,907 1334.3,915.7 1334.3,877.3 1335.3,882.9 1335.3,915.2 1336.3,871.7 1336.3,931.9 1337.3,865.6 1337.3,920.5 1338.3,891.3 1338.3,921.8 1339.3,918.6 1339.3,864 1340.3,879.6 1340.3,924.2 1341.3,912.7 1341.3,884.6 1342.3,875.9 1342.3,922 1343.3,862.6 1343.3,924.1 1344.3,877.4 1344.3,914.2 1345.3,912.8 1345.3,868.3 1346.3,923.3 1346.3,874 1347.3,904.1 1347.3,872.9 1348.3,889.5 1348.3,918.5 1349.3,874.1 1349.3,925.1 1350.3,874.7 1350.3,923.7 1351.3,917.8 1351.3,881.1 1352.3,934.4 1352.3,863.8 1353.3,914.9 1353.3,881.6 1354.3,920.4 1354.3,886.8 1355.3,925.6 1355.3,871.5 1356.3,919.8 1356.3,885.6 1357.3,931.3 1357.3,882.3 1358.3,911.6 1358.3,880.8 1359.3,865.1 1359.3,935.9 1360.3,868.6 1360.3,934.2 1361.3,890.8 1361.3,921.8 1362.3,886.9 1362.3,923.6 1363.3,881.4 1363.3,940.4 1364.3,878 1364.3,943.9 1365.3,892.4 1365.3,932.4 1366.3,928.4 1366.3,887.9 1367.3,866.1 1367.3,918.2 1368.3,880.1 1368.3,925.5 1369.3,921.3 1369.3,870.5 1370.3,879.6 1370.3,912.5 1371.3,914.6 1371.3,864.4 1372.3,881.2 1372.3,907.5 1373.3,938.7 1373.3,874 1374.3,881.7 1374.3,930.7 1375.3,925.3 1375.3,881.1 1376.3,896.9 1376.3,923.7 1377.3,919.8 1377.3,873.5 1378.3,895.1 1378.3,936.4 1379.3,929.5 1379.3,867.9 1380.3,864.9 1380.3,913.4 1381.3,873.5 1381.3,912.7 1382.3,884.2 1382.3,934.4 1383.3,922 1383.3,879.5 1384.3,920.7 1384.3,883.4 1385.3,914.5 1385.3,873.1 1386.3,905.7 1386.3,871.2 1387.3,919.1 1387.3,856.5 1388.3,922.9 1388.3,886.7 1389.3,930.4 1389.3,860 1390.3,915.8 1390.3,867.3 1391.3,919.4 1391.3,864.2 1392.3,923.7 1392.3,888.9 1393.3,880.5 1393.3,918.6 1394.3,894.5 1394.3,940.7 1395.3,874.9 1395.3,941.5 1396.3,887.4 1396.3,934.8 1397.3,920.8 1397.3,876 1398.3,945.6 1398.3,868.5 1399.3,876.8 1399.3,920.1 1400.3,918.8 1400.3,874 1401.3,885.5 1401.3,910.8 1402.3,876.5 1402.3,916.6 1403.3,874.2 1403.3,940.3 1404.3,893.3 1404.3,924.5 1405.3,878.4 1405.3,930 1406.3,925 1406.3,868.9 1407.3,920.8 1407.3,874.6 1408.3,868.2 1408.3,918.5 1409.3,862.2 1409.3,921 1410.3,871.9 1410.3,903.6 1411.3,867.6 1411.3,895.8 1412.3,917.3 1412.3,864.1 1413.3,881.9 1413.3,920.1 1414.3,923.1 1414.3,873.9 1415.3,909.6 1415.3,871.4 1416.3,870.5 1416.3,913.2 1417.3,872.6 1417.3,919.4 1418.3,929 1418.3,871.5 1419.3,910 1419.3,860.9 1420.3,870.3 1420.3,935.4 1421.3,874.3 1421.3,921.3 1422.3,869 1422.3,925.9 1423.3,933 1423.3,880 1424.3,886.9 1424.3,921.6 1425.3,866.7 1425.3,916.6 1426.3,923.3 1426.3,858.6 1427.3,869.6 1427.3,908.6 1428.3,867.7 1428.3,917.6 1429.3,924.6 1429.3,864.4 1430.3,860.3 1430.3,910.7 1431.3,914.7 1431.3,880.2 1432.3,917.2 1432.3,876.8 1433.3,924.4 1433.3,864.7 1434.3,874.7 1434.3,914.3 1435.3,870.1 1435.3,924.1 1436.3,866.8 1436.3,921.3 1437.3,918.3 1437.3,876.7 1438.3,926.1 1438.3,885 1439.3,933.3 1439.3,876.1 1440.3,887.3 1440.3,931 1441.3,921.8 1441.3,871.3 1442.3,876.2 1442.3,926 1443.3,930.3 1443.3,887.6 1444.3,884.4 1444.3,919.9 1445.3,868.1 1445.3,941.7 1446.3,873 1446.3,923.6 1447.3,921.4 1447.3,868.1 1448.3,913.1 1448.3,864.1 1449.3,932.3 1449.3,891.1 1450.3,926.7 1450.3,876 1451.3,873.1 1451.3,928.2 1452.3,921.4 1452.3,874.5 1453.3,924.8 1453.3,884.6 1454.3,891.3 1454.3,926.2 1455.3,882.8 1455.3,925.5 1456.3,931 1456.3,886.2 1457.3,884.3 1457.3,919.6 1458.3,917.9 1458.3,875.9 1459.3,859.4 1459.3,924 1460.3,880 1460.3,927.9 1461.3,878.5 1461.3,928.4 1462.3,930.6 1462.3,859.4 1463.3,926.9 1463.3,888.6 1464.3,921.7 1464.3,880.6 1465.3,906.5 1465.3,858.5 1466.3,874.9 1466.3,932.3 1467.3,879 1467.3,922.2 1468.3,882.5 1468.3,923.8 1469.3,919.4 1469.3,878.8 1470.3,856.5 1470.3,919.5 1471.3,877.7 1471.3,927.7 1472.3,917 1472.3,877.4 1473.3,873.2 1473.3,924.8 1474.3,866 1474.3,929.4 1475.3,916.4 1475.3,882.4 1476.3,924.7 1476.3,880.1 1477.3,872.2 1477.3,930.9 1478.3,875.9 1478.3,924.6 1479.3,929.1 1479.3,894.1 1480.3,919.1 1480.3,875.8 1481.3,878.1 1481.3,937.1 1482.3,925.6 1482.3,871.4 1483.3,874.9 1483.3,925.1 1484.3,917.2 1484.3,867.2 1485.3,928.8 1485.3,883.8 1486.3,927.5 1486.3,881.5 1487.3,871 1487.3,920.9 1488.3,857.5 1488.3,916.1 1489.3,930.4 1489.3,888.1 1490.3,877.6 1490.3,916.2 1491.3,918.8 1491.3,876.3 1492.3,893.5 1492.3,942.8 1493.3,868.9 1493.3,927.9 1494.3,875.9 1494.3,928.8 1495.3,883 1495.3,918.4 1496.3,925.4 1496.3,850.2 1497.3,872.1 1497.3,932.6 1498.3,885 1498.3,922.8 1499.3,921.5 1499.3,878.4 1500.3,868.3 1500.3,914.7 1501.3,875.7 1501.3,921.8 1502.3,872.1 1502.3,924.7 1503.3,926.3 1503.3,866.1 1504.3,921.2 1504.3,884.2 1505.3,877.7 1505.3,933.1 1506.3,910.2 1506.3,879.8 1507.3,880.1 1507.3,911.8 1508.3,880.1 1508.3,925.9 1509.3,869.6 1509.3,922.7 1510.3,923 1510.3,868.3 1511.3,883.1 1511.3,932 1512.3,917.8 1512.3,883.9 1513.3,918.5 1513.3,880.2 1514.3,917.7 1514.3,869.8 1515.3,878 1515.3,912.5 1516.3,874.6 1516.3,922.9 1517.3,886.2 1517.3,919.6 1518.3,922.5 1518.3,877.8 1519.3,915.3 1519.3,872.1 1520.3,872.2 1520.3,921.8 1521.3,877.3 1521.3,928.4 1522.3,937.2 1522.3,878 1523.3,935.2 1523.3,888.6 1524.3,895.8 1524.3,943.9 1525.3,897.8 1525.3,936.7 1526.3,888.1 1526.3,926.1 1527.3,950.4 1527.3,887.1 1528.3,884.9 1528.3,944 1529.3,921.8 1529.3,881.3 1530.3,874.3 1530.3,919.3 1531.3,888.4 1531.3,925.1 1532.3,932.9 1532.3,878.4 1533.3,927.5 1533.3,880.6 1534.3,922.5 1534.3,889.5 1535.3,889.1 1535.3,918.3 1536.3,875 1536.3,936.4 1537.3,913.3 1537.3,880.5 1538.3,864.3 1538.3,932.3 1539.3,890.1 1539.3,922.2 1540.3,862.9 1540.3,921.8 1541.3,874.3 1541.3,908.8 1542.3,917.7 1542.3,862.2 1543.3,863.6 1543.3,927.1 1544.3,848.9 1544.3,913.7 1545.3,879.6 1545.3,913.9 1546.3,916.1 1546.3,880.6 1547.3,857.4 1547.3,934.7 1548.3,876.1 1548.3,920.6 1549.3,918.4 1549.3,876.1 1550.3,873.2 1550.3,911.6 1551.3,902.8 1551.3,860.9 1552.3,928.2 1552.3,883.1 1553.3,912.5 1553.3,873 1554.3,918 1554.3,878.8 1555.3,870.3 1555.3,930.8 1556.3,917.4 1556.3,891.4 1557.3,920 1557.3,868.3 1558.3,920.4 1558.3,879.9 1559.3,914.6 1559.3,863.1 1560.3,869.5 1560.3,919 1561.3,917.2 1561.3,869 1562.3,868.9 1562.3,913.8 1563.3,881.4 1563.3,920.5 1564.3,919.1 1564.3,882.7 1565.3,889 1565.3,925.4 1566.3,868 1566.3,920 1567.3,916.8 1567.3,872.2 1568.3,893.4 1568.3,929.1 1569.3,883.1 1569.3,918 1570.3,915 1570.3,873.6 1571.3,936.1 1571.3,866 1572.3,876.8 1572.3,923.7 1573.3,886.7 1573.3,945.1 1574.3,897.7 1574.3,932.4 1575.3,891.2 1575.3,938.6 1576.3,887 1576.3,936.3 1577.3,894.1 1577.3,938.4 1578.3,892.3 1578.3,937.4 1579.3,874.4 1579.3,930.8 1580.3,882.8 1580.3,918.7 1581.3,881.7 1581.3,913.2 1582.3,915.7 1582.3,881.5 1583.3,865.7 1583.3,924.3 1584.3,929.7 1584.3,875.7 1585.3,932.2 1585.3,877.5 1586.3,934.2 1586.3,893.8 1587.3,886.9 1587.3,933 1588.3,924.9 1588.3,877 1589.3,921.3 1589.3,876.6 1590.3,882 1590.3,917.8 1591.3,918.6 1591.3,892.5 1592.3,925.1 1592.3,885.2 1593.3,875.4 1593.3,933.5 1594.3,912.1 1594.3,881.6 1595.3,870.9 1595.3,919.7 1596.3,864 1596.3,908.6 1597.3,911.6 1597.3,853.4 1598.3,869.2 1598.3,915.7 1599.3,864.5 1599.3,917 1600.3,911.6 1600.3,865.6 1601.3,916 1601.3,866.6 1602.3,874.4 1602.3,920 1603.3,867.4 1603.3,917.6 1604.3,876.6 1604.3,914.2 1605.3,913.7 1605.3,871.8 1606.3,922.7 1606.3,878.1 1607.3,869.5 1607.3,924 1608.3,923.6 1608.3,881 1609.3,879.6 1609.3,929.7 1610.3,928.1 1610.3,875.9 1611.3,880.1 1611.3,932.6 1612.3,876.5 1612.3,939.7 1613.3,888 1613.3,934.9 1614.3,924.8 1614.3,892.9 1615.3,935.7 1615.3,888.3 1616.3,873.5 1616.3,914.2 1617.3,851.6 1617.3,908.4 1618.3,883 1618.3,925.8 1618.8,918.3 1618.8,862.7" stroke="#000" stroke-width="1.8" fill="none" stroke-linejoin="bevel"/>
<g stroke="#000" fill="none">
<rect x="959.8" y="625.3" width="659.6" height="486.5" stroke-width="2.4"/>
<path d="M951.2 1111.8H959.8M951.2 990.18H959.8M951.2 868.55H959.8M951.2 746.93H959.8M951.2 625.3H959.8M959.8 1111.8V1120.4M1091.72 1111.8V1120.4M1223.64 1111.8V1120.4M1355.56 1111.8V1120.4M1487.48 1111.8V1120.4M1619.4 1111.8V1120.4" stroke-width="2.4" stroke-linecap="round"/>
</g>
<g font-size="27.18" text-anchor="end">
<text transform="translate(938.12 1121.18) scale(0.936 1)">2.50</text>
<text transform="translate(938.12 999.55) scale(0.936 1)">2.55</text>
<text transform="translate(938.12 877.93) scale(0.936 1)">2.60</text>
<text transform="translate(938.12 756.3) scale(0.936 1)">2.65</text>
<text transform="translate(938.12 634.68) scale(0.936 1)">2.70</text>
</g>
<g font-size="26.76" text-anchor="middle">
<text transform="translate(959.8 1158.03) scale(0.940 1)">0</text>
<text transform="translate(1091.72 1158.03) scale(0.940 1)">20</text>
<text transform="translate(1223.64 1158.03) scale(0.940 1)">40</text>
<text transform="translate(1355.56 1158.03) scale(0.940 1)">60</text>
<text transform="translate(1487.48 1158.03) scale(0.940 1)">80</text>
<text transform="translate(1619.4 1158.03) scale(0.940 1)">100</text>
</g>
<text transform="translate(1007.02 682.3) scale(0.942 1)" font-size="40.58" font-weight="bold">D</text>
<text transform="translate(1232.66 1202.5) scale(0.969 1)" font-size="30.43">Time (ns)</text>
<text transform="translate(865.2 929.62) rotate(-90) scale(0.948 1)" font-size="29.49" font-weight="bold">Rg (nm)</text>
<line x1="1295.3" y1="729.9" x2="1354.2" y2="729.9" stroke="#ff0000" stroke-width="2.8"/>
<line x1="1295.3" y1="765" x2="1354.2" y2="765" stroke="#000" stroke-width="2.2"/>
<text transform="translate(1366.63 739.52) scale(0.924 1)" font-size="27.61">Catalase</text>
<text transform="translate(1366.63 774.82) scale(0.917 1)" font-size="27.61">Catalase + SAC</text>
</g>
<g id="panelE">
<rect x="524.4" y="1670.42" width="691.2" height="130.48"/>
<path d="M548.38 1673.22h2.42V1800.9h-2.42zM561.78 1673.22h11.42V1800.9h-11.42zM576.94 1673.22h8.79V1800.9h-8.79zM594.51 1673.22h14.5V1800.9h-14.5zM662.59 1673.22h3.07V1800.9h-3.07zM765.38 1673.22h1.54V1800.9h-1.54zM776.81 1673.22h6.15V1800.9h-6.15zM784.71 1673.22h2.2V1800.9h-2.2zM815.02 1673.22h5.93V1800.9h-5.93zM852.36 1673.22h3.07V1800.9h-3.07zM1067.06 1673.22h3.95V1800.9h-3.95zM1073.21 1673.22h7.03V1800.9h-7.03zM1086.83 1673.22h1.1V1800.9h-1.1zM1090.79 1673.22h3.29V1800.9h-3.29zM1096.72 1673.22h1.98V1800.9h-1.98z" fill="#fff"/>
<rect x="558.27" y="1673.22" width="1.1" height="127.68" fill="#fff" opacity="0.6"/>
<rect x="789.1" y="1673.22" width="1.32" height="127.68" fill="#fff" opacity="0.5"/>
<rect x="848.19" y="1673.22" width="1.54" height="127.68" fill="#fff" opacity="0.5"/>
<rect x="1121.09" y="1673.22" width="0.66" height="127.68" fill="#fff" opacity="0.5"/>
<path d="M528.84 1541.35h1.1V1671.62h-1.1zM531.25 1541.35h2.2V1671.62h-2.2zM535.21 1541.35h2.86V1671.62h-2.86zM546.85 1541.35h5.93V1671.62h-5.93zM554.53 1541.35h60.4V1671.62h-60.4zM616.03 1541.35h4.83V1671.62h-4.83zM628.11 1541.35h2.2V1671.62h-2.2zM632.5 1541.35h0.88V1671.62h-0.88zM634.04 1541.35h0.88V1671.62h-0.88zM637.12 1541.35h1.54V1671.62h-1.54zM644.58 1541.35h2.2V1671.62h-2.2zM647.88 1541.35h5.93V1671.62h-5.93zM661.06 1541.35h9.44V1671.62h-9.44zM672.7 1541.35h2.64V1671.62h-2.64zM676.43 1541.35h2.2V1671.62h-2.2zM684.56 1541.35h8.35V1671.62h-8.35zM694.66 1541.35h2.2V1671.62h-2.2zM698.62 1541.35h9.66V1671.62h-9.66zM710.04 1541.35h10.32V1671.62h-10.32zM723.65 1541.35h10.32V1671.62h-10.32zM736.17 1541.35h3.95V1671.62h-3.95zM741.66 1541.35h13.18V1671.62h-13.18zM758.36 1541.35h2.2V1671.62h-2.2zM762.09 1541.35h34.04V1671.62h-34.04zM799.43 1541.35h2.2V1671.62h-2.2zM804.92 1541.35h2.86V1671.62h-2.86zM813.05 1541.35h9.44V1671.62h-9.44zM830.62 1541.35h3.95V1671.62h-3.95zM838.3 1541.35h6.15V1671.62h-6.15zM846.21 1541.35h8.13V1671.62h-8.13zM855.43 1541.35h1.32V1671.62h-1.32zM858.73 1541.35h8.79V1671.62h-8.79zM869.05 1541.35h6.15V1671.62h-6.15zM875.2 1541.35h5.61V1671.62h-5.61zM882.13 1541.35h2.2V1671.62h-2.2zM885.87 1541.35h5.49V1671.62h-5.49zM895.75 1541.35h2.2V1671.62h-2.2zM902.78 1541.35h2.86V1671.62h-2.86zM910.03 1541.35h3.29V1671.62h-3.29zM918.81 1541.35h2.2V1671.62h-2.2zM923.86 1541.35h1.54V1671.62h-1.54zM927.6 1541.35h7.69V1671.62h-7.69zM937.04 1541.35h8.79V1671.62h-8.79zM947.36 1541.35h5.49V1671.62h-5.49zM956.81 1541.35h16.91V1671.62h-16.91zM977.01 1541.35h2.2V1671.62h-2.2zM980.31 1541.35h5.05V1671.62h-5.05zM987.56 1541.35h11.42V1671.62h-11.42zM1012.81 1541.35h3.29V1671.62h-3.29zM1021.38 1541.35h5.05V1671.62h-5.05zM1038.07 1541.35h5.93V1671.62h-5.93zM1045.54 1541.35h4.39V1671.62h-4.39zM1057.18 1541.35h6.59V1671.62h-6.59zM1065.97 1541.35h16.47V1671.62h-16.47zM1084.2 1541.35h24.6V1671.62h-24.6zM1110.11 1541.35h5.27V1671.62h-5.27zM1117.14 1541.35h8.13V1671.62h-8.13zM1126.81 1541.35h3.29V1671.62h-3.29zM1134.05 1541.35h2.2V1671.62h-2.2zM1138.01 1541.35h5.93V1671.62h-5.93zM1159.97 1541.35h7.69V1671.62h-7.69zM1172.93 1541.35h3.29V1671.62h-3.29zM1180.84 1541.35h2.2V1671.62h-2.2zM1187.86 1541.35h3.73V1671.62h-3.73zM1192.92 1541.35h8.13V1671.62h-8.13zM1207.19 1541.35h4.83V1671.62h-4.83z"/>
<rect x="564.58" y="1542.85" width="1" height="127.28" fill="#fff" opacity="0.5"/>
<rect x="570.51" y="1542.85" width="1" height="127.28" fill="#fff" opacity="0.6"/>
<rect x="645.62" y="1542.85" width="1" height="127.28" fill="#fff" opacity="0.5"/>
<rect x="740.29" y="1542.85" width="1" height="127.28" fill="#fff" opacity="0.5"/>
<rect x="875.48" y="1542.85" width="1" height="127.28" fill="#fff" opacity="0.5"/>
<rect x="940.27" y="1542.85" width="1" height="127.28" fill="#fff" opacity="0.5"/>
<rect x="989.25" y="1542.85" width="1" height="127.28" fill="#fff" opacity="0.5"/>
<rect x="1115.54" y="1542.85" width="1" height="127.28" fill="#fff" opacity="0.5"/>
<path d="M547.28 1412.08h2.2V1542.35h-2.2zM564.86 1412.08h2.2V1542.35h-2.2zM818.1 1412.08h2.2V1542.35h-2.2zM1021.26 1412.08h2V1542.35h-2zM1068.13 1412.08h6V1542.35h-6zM1076.07 1412.08h2.2V1542.35h-2.2zM1087.39 1412.08h2.4V1542.35h-2.4zM1095.52 1412.08h2.4V1542.35h-2.4zM1102.64 1412.08h2.2V1542.35h-2.2z"/>
<g stroke="#000" fill="none">
<rect x="524.4" y="1283.8" width="691.2" height="517.1" stroke-width="2.9"/>
<path d="M514.8 1800.9H524.4M514.8 1671.62H524.4M514.8 1542.35H524.4M514.8 1413.08H524.4M514.8 1283.8H524.4M524.4 1800.9V1810.5M662.64 1800.9V1810.5M800.88 1800.9V1810.5M939.12 1800.9V1810.5M1077.36 1800.9V1810.5M1215.6 1800.9V1810.5" stroke-width="2.9" stroke-linecap="round"/>
</g>
<g font-size="29.58" text-anchor="end">
<text transform="translate(500.92 1810.71) scale(0.859 1)">0</text>
<text transform="translate(500.92 1681.43) scale(0.859 1)">1</text>
<text transform="translate(500.92 1552.16) scale(0.859 1)">2</text>
<text transform="translate(500.92 1422.88) scale(0.859 1)">3</text>
<text transform="translate(500.92 1293.61) scale(0.859 1)">4</text>
</g>
<g font-size="30.03" text-anchor="middle">
<text transform="translate(524.4 1850.51) scale(0.883 1)">0</text>
<text transform="translate(662.64 1850.51) scale(0.883 1)">20</text>
<text transform="translate(800.88 1850.51) scale(0.883 1)">40</text>
<text transform="translate(939.12 1850.51) scale(0.883 1)">60</text>
<text transform="translate(1077.36 1850.51) scale(0.883 1)">80</text>
<text transform="translate(1215.6 1850.51) scale(0.883 1)">100</text>
</g>
<text transform="translate(578.16 1344.5) scale(0.882 1)" font-size="40.72" font-weight="bold">E</text>
<text transform="translate(809.93 1900.85) scale(0.916 1)" font-size="29.49" font-weight="bold">Time (ns)</text>
<text transform="translate(456.7 1686.7) rotate(-90) scale(0.962 1)" font-size="28.84" font-weight="bold">Number of H-Bonds</text>
</g>
</svg>
</body>
</html>
